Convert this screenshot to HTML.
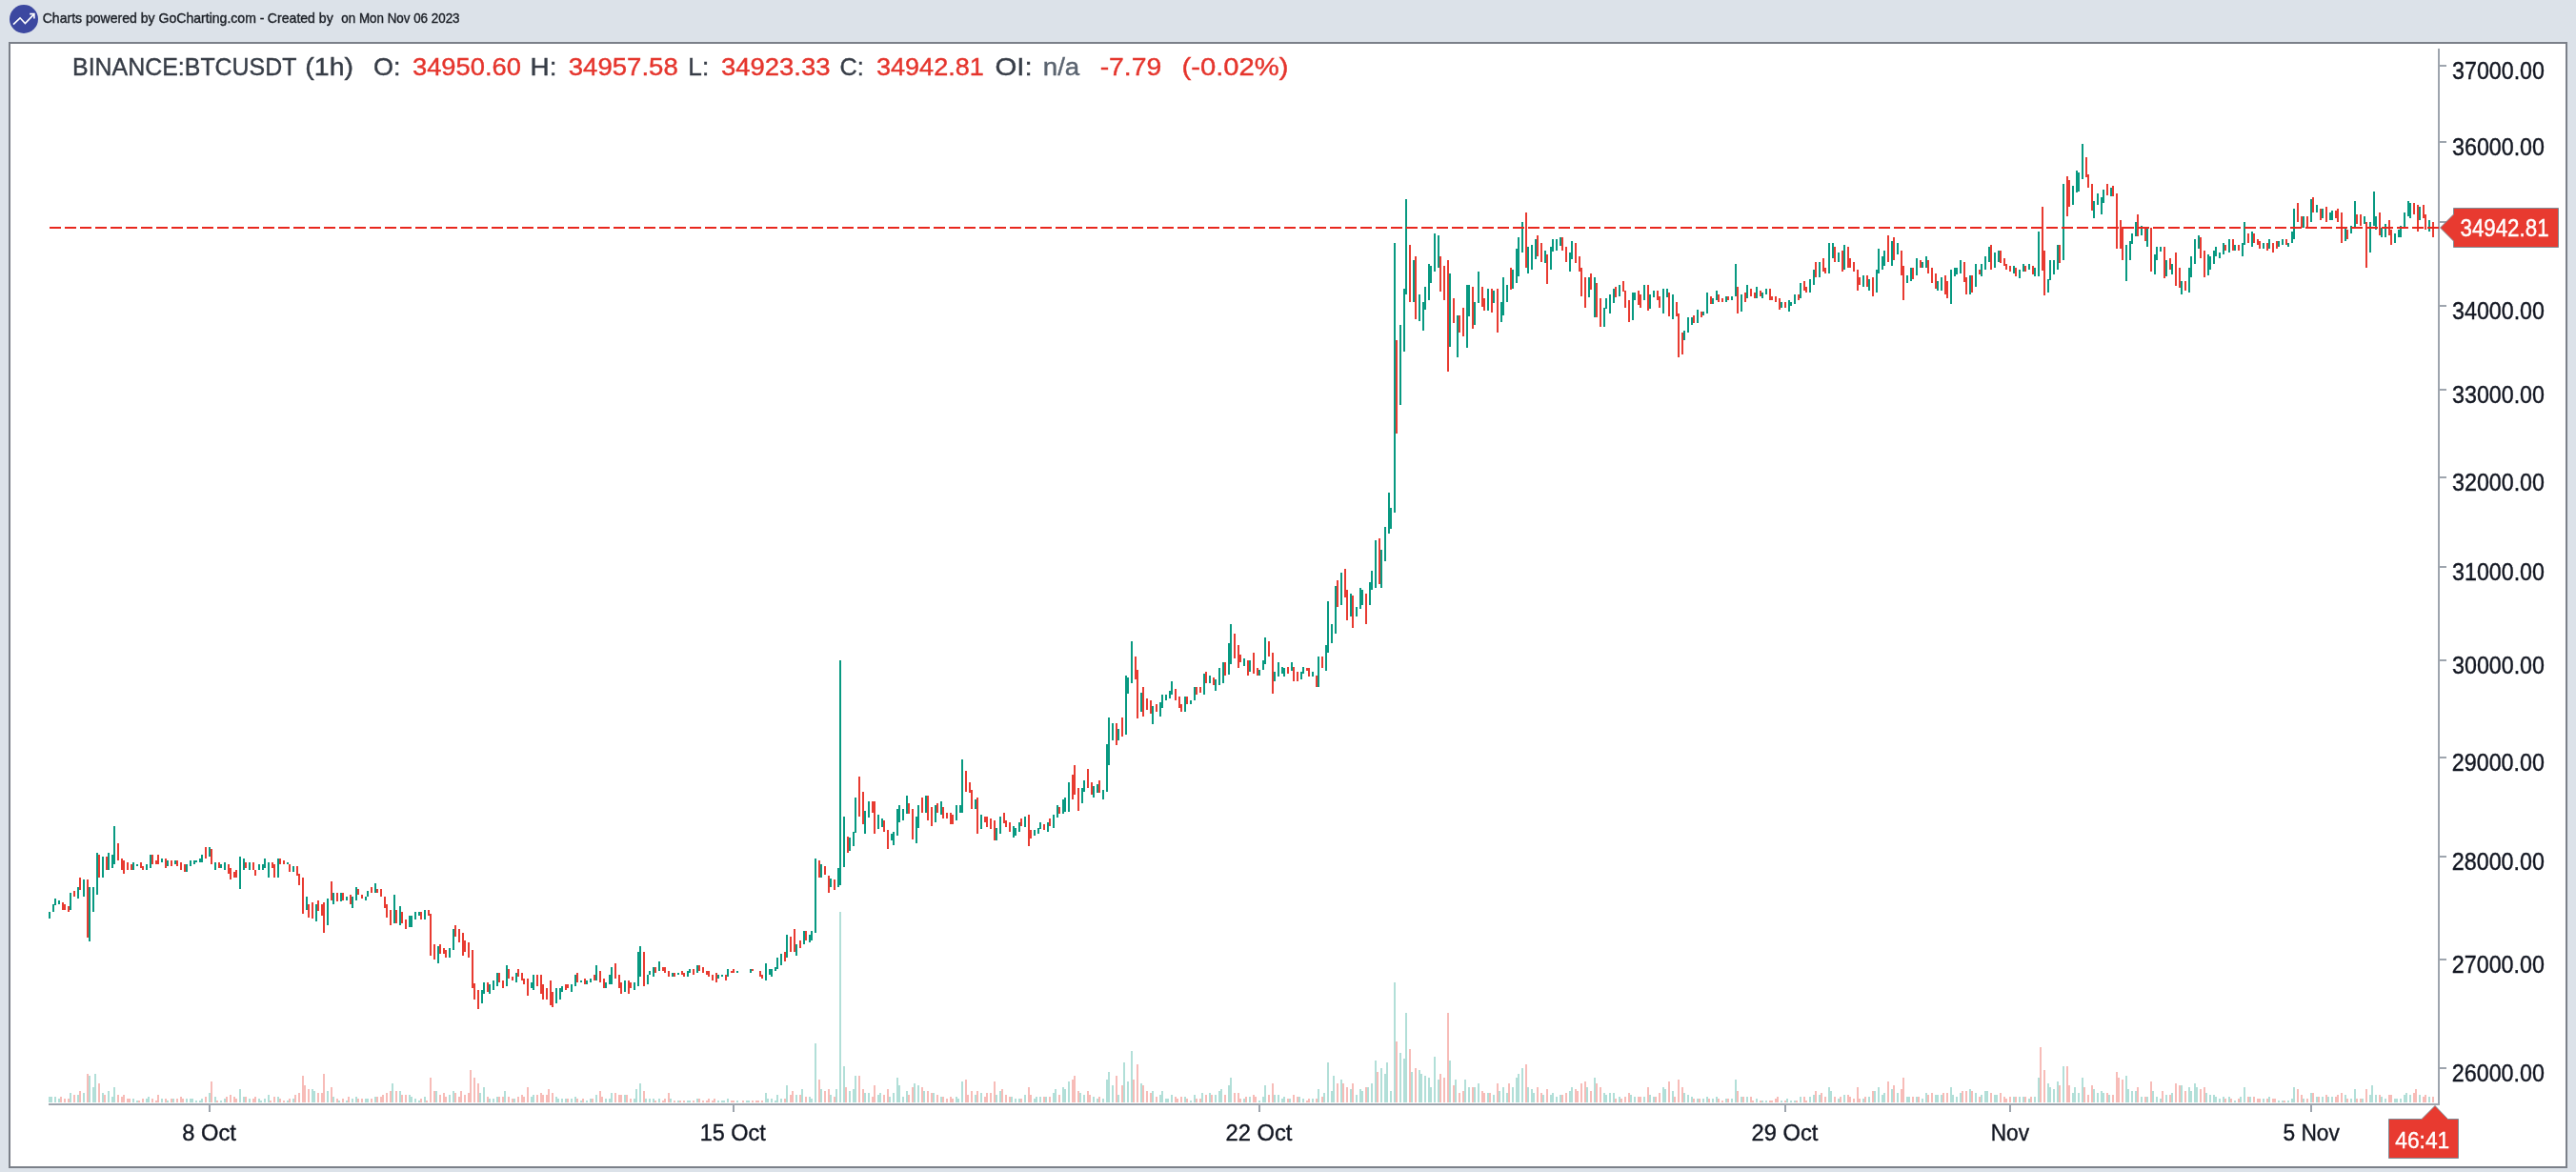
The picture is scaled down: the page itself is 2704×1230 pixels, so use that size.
<!DOCTYPE html>
<html><head><meta charset="utf-8"><style>
html,body{margin:0;padding:0;}
body{width:2704px;height:1230px;background:#dce2e9;overflow:hidden;position:relative;font-family:"Liberation Sans",sans-serif;}
#box{position:absolute;left:9px;top:44px;width:2682px;height:1178px;background:#fff;border:2px solid #7b8089;}
svg{position:absolute;left:0;top:0;font-family:"Liberation Sans",sans-serif;will-change:transform;}
</style></head><body>
<div id="box"></div>
<svg width="2704" height="1230" viewBox="0 0 2704 1230" shape-rendering="crispEdges">
<circle cx="25" cy="20" r="15" fill="#3c48a0" shape-rendering="auto"/>
<polyline points="14,25.6 21.05,18.8 26.4,24.6 35.5,15.1" fill="none" stroke="#fff" stroke-width="1.6" shape-rendering="auto"/>
<polyline points="31.2,14.6 35.9,14.6 35.9,19.5" fill="none" stroke="#fff" stroke-width="1.6" shape-rendering="auto"/>
<g><rect x="51" y="1151" width="2" height="6" fill="#b2dfd8"/><rect x="53" y="1151" width="2" height="6" fill="#b2dfd8"/><rect x="57" y="1151" width="2" height="6" fill="#b2dfd8"/><rect x="61" y="1153" width="2" height="4" fill="#b2dfd8"/><rect x="63" y="1151" width="2" height="6" fill="#f7bcb8"/><rect x="67" y="1153" width="2" height="4" fill="#f7bcb8"/><rect x="71" y="1153" width="2" height="4" fill="#f7bcb8"/><rect x="73" y="1147" width="2" height="10" fill="#b2dfd8"/><rect x="77" y="1149" width="2" height="8" fill="#f7bcb8"/><rect x="81" y="1149" width="2" height="8" fill="#b2dfd8"/><rect x="83" y="1145" width="2" height="12" fill="#f7bcb8"/><rect x="87" y="1147" width="2" height="10" fill="#b2dfd8"/><rect x="91" y="1127" width="2" height="30" fill="#f7bcb8"/><rect x="93" y="1129" width="2" height="28" fill="#b2dfd8"/><rect x="97" y="1141" width="2" height="16" fill="#b2dfd8"/><rect x="99" y="1127" width="2" height="30" fill="#b2dfd8"/><rect x="103" y="1137" width="2" height="20" fill="#f7bcb8"/><rect x="107" y="1147" width="2" height="10" fill="#b2dfd8"/><rect x="109" y="1149" width="2" height="8" fill="#f7bcb8"/><rect x="113" y="1145" width="2" height="12" fill="#b2dfd8"/><rect x="117" y="1151" width="2" height="6" fill="#b2dfd8"/><rect x="119" y="1141" width="2" height="16" fill="#b2dfd8"/><rect x="123" y="1149" width="2" height="8" fill="#f7bcb8"/><rect x="127" y="1151" width="2" height="6" fill="#f7bcb8"/><rect x="129" y="1149" width="2" height="8" fill="#f7bcb8"/><rect x="133" y="1153" width="2" height="4" fill="#f7bcb8"/><rect x="135" y="1153" width="2" height="4" fill="#f7bcb8"/><rect x="139" y="1153" width="2" height="4" fill="#b2dfd8"/><rect x="143" y="1155" width="2" height="2" fill="#b2dfd8"/><rect x="145" y="1155" width="2" height="2" fill="#f7bcb8"/><rect x="149" y="1153" width="2" height="4" fill="#f7bcb8"/><rect x="153" y="1153" width="2" height="4" fill="#b2dfd8"/><rect x="155" y="1151" width="2" height="6" fill="#b2dfd8"/><rect x="159" y="1153" width="2" height="4" fill="#f7bcb8"/><rect x="163" y="1155" width="2" height="2" fill="#f7bcb8"/><rect x="165" y="1149" width="2" height="8" fill="#f7bcb8"/><rect x="169" y="1153" width="2" height="4" fill="#b2dfd8"/><rect x="173" y="1153" width="2" height="4" fill="#f7bcb8"/><rect x="175" y="1155" width="2" height="2" fill="#b2dfd8"/><rect x="179" y="1153" width="2" height="4" fill="#f7bcb8"/><rect x="181" y="1153" width="2" height="4" fill="#b2dfd8"/><rect x="185" y="1153" width="2" height="4" fill="#f7bcb8"/><rect x="189" y="1151" width="2" height="6" fill="#f7bcb8"/><rect x="191" y="1153" width="2" height="4" fill="#f7bcb8"/><rect x="195" y="1153" width="2" height="4" fill="#b2dfd8"/><rect x="199" y="1153" width="2" height="4" fill="#b2dfd8"/><rect x="201" y="1153" width="2" height="4" fill="#b2dfd8"/><rect x="205" y="1155" width="2" height="2" fill="#b2dfd8"/><rect x="209" y="1155" width="2" height="2" fill="#b2dfd8"/><rect x="211" y="1153" width="2" height="4" fill="#b2dfd8"/><rect x="215" y="1151" width="2" height="6" fill="#f7bcb8"/><rect x="219" y="1147" width="2" height="10" fill="#b2dfd8"/><rect x="221" y="1135" width="2" height="22" fill="#f7bcb8"/><rect x="225" y="1151" width="2" height="6" fill="#b2dfd8"/><rect x="227" y="1155" width="2" height="2" fill="#f7bcb8"/><rect x="231" y="1155" width="2" height="2" fill="#b2dfd8"/><rect x="235" y="1153" width="2" height="4" fill="#b2dfd8"/><rect x="237" y="1151" width="2" height="6" fill="#f7bcb8"/><rect x="241" y="1149" width="2" height="8" fill="#f7bcb8"/><rect x="245" y="1151" width="2" height="6" fill="#f7bcb8"/><rect x="247" y="1153" width="2" height="4" fill="#f7bcb8"/><rect x="251" y="1143" width="2" height="14" fill="#b2dfd8"/><rect x="255" y="1151" width="2" height="6" fill="#b2dfd8"/><rect x="257" y="1151" width="2" height="6" fill="#f7bcb8"/><rect x="261" y="1153" width="2" height="4" fill="#b2dfd8"/><rect x="265" y="1153" width="2" height="4" fill="#f7bcb8"/><rect x="267" y="1151" width="2" height="6" fill="#f7bcb8"/><rect x="271" y="1153" width="2" height="4" fill="#b2dfd8"/><rect x="273" y="1155" width="2" height="2" fill="#b2dfd8"/><rect x="277" y="1153" width="2" height="4" fill="#b2dfd8"/><rect x="281" y="1149" width="2" height="8" fill="#b2dfd8"/><rect x="283" y="1155" width="2" height="2" fill="#f7bcb8"/><rect x="287" y="1151" width="2" height="6" fill="#f7bcb8"/><rect x="291" y="1151" width="2" height="6" fill="#b2dfd8"/><rect x="293" y="1153" width="2" height="4" fill="#f7bcb8"/><rect x="297" y="1155" width="2" height="2" fill="#f7bcb8"/><rect x="301" y="1155" width="2" height="2" fill="#b2dfd8"/><rect x="303" y="1153" width="2" height="4" fill="#f7bcb8"/><rect x="307" y="1153" width="2" height="4" fill="#b2dfd8"/><rect x="309" y="1149" width="2" height="8" fill="#f7bcb8"/><rect x="313" y="1147" width="2" height="10" fill="#f7bcb8"/><rect x="317" y="1129" width="2" height="28" fill="#f7bcb8"/><rect x="319" y="1139" width="2" height="18" fill="#f7bcb8"/><rect x="323" y="1143" width="2" height="14" fill="#f7bcb8"/><rect x="327" y="1143" width="2" height="14" fill="#b2dfd8"/><rect x="329" y="1145" width="2" height="12" fill="#b2dfd8"/><rect x="333" y="1147" width="2" height="10" fill="#f7bcb8"/><rect x="337" y="1147" width="2" height="10" fill="#f7bcb8"/><rect x="339" y="1127" width="2" height="30" fill="#f7bcb8"/><rect x="343" y="1145" width="2" height="12" fill="#b2dfd8"/><rect x="347" y="1141" width="2" height="16" fill="#f7bcb8"/><rect x="349" y="1151" width="2" height="6" fill="#b2dfd8"/><rect x="353" y="1153" width="2" height="4" fill="#f7bcb8"/><rect x="355" y="1155" width="2" height="2" fill="#b2dfd8"/><rect x="359" y="1153" width="2" height="4" fill="#f7bcb8"/><rect x="363" y="1155" width="2" height="2" fill="#b2dfd8"/><rect x="365" y="1151" width="2" height="6" fill="#f7bcb8"/><rect x="369" y="1153" width="2" height="4" fill="#b2dfd8"/><rect x="373" y="1151" width="2" height="6" fill="#b2dfd8"/><rect x="375" y="1153" width="2" height="4" fill="#f7bcb8"/><rect x="379" y="1153" width="2" height="4" fill="#f7bcb8"/><rect x="383" y="1153" width="2" height="4" fill="#b2dfd8"/><rect x="385" y="1153" width="2" height="4" fill="#b2dfd8"/><rect x="389" y="1153" width="2" height="4" fill="#f7bcb8"/><rect x="393" y="1151" width="2" height="6" fill="#b2dfd8"/><rect x="395" y="1151" width="2" height="6" fill="#f7bcb8"/><rect x="399" y="1151" width="2" height="6" fill="#f7bcb8"/><rect x="401" y="1149" width="2" height="8" fill="#f7bcb8"/><rect x="405" y="1147" width="2" height="10" fill="#f7bcb8"/><rect x="409" y="1145" width="2" height="12" fill="#f7bcb8"/><rect x="411" y="1137" width="2" height="20" fill="#b2dfd8"/><rect x="415" y="1145" width="2" height="12" fill="#f7bcb8"/><rect x="419" y="1145" width="2" height="12" fill="#b2dfd8"/><rect x="421" y="1149" width="2" height="8" fill="#f7bcb8"/><rect x="425" y="1149" width="2" height="8" fill="#f7bcb8"/><rect x="429" y="1149" width="2" height="8" fill="#b2dfd8"/><rect x="431" y="1151" width="2" height="6" fill="#b2dfd8"/><rect x="435" y="1153" width="2" height="4" fill="#b2dfd8"/><rect x="439" y="1155" width="2" height="2" fill="#b2dfd8"/><rect x="441" y="1153" width="2" height="4" fill="#f7bcb8"/><rect x="445" y="1151" width="2" height="6" fill="#b2dfd8"/><rect x="447" y="1155" width="2" height="2" fill="#f7bcb8"/><rect x="451" y="1131" width="2" height="26" fill="#f7bcb8"/><rect x="455" y="1145" width="2" height="12" fill="#f7bcb8"/><rect x="457" y="1145" width="2" height="12" fill="#b2dfd8"/><rect x="461" y="1149" width="2" height="8" fill="#f7bcb8"/><rect x="465" y="1147" width="2" height="10" fill="#f7bcb8"/><rect x="467" y="1151" width="2" height="6" fill="#f7bcb8"/><rect x="471" y="1149" width="2" height="8" fill="#b2dfd8"/><rect x="475" y="1145" width="2" height="12" fill="#b2dfd8"/><rect x="477" y="1147" width="2" height="10" fill="#f7bcb8"/><rect x="481" y="1151" width="2" height="6" fill="#f7bcb8"/><rect x="483" y="1145" width="2" height="12" fill="#f7bcb8"/><rect x="487" y="1149" width="2" height="8" fill="#f7bcb8"/><rect x="491" y="1147" width="2" height="10" fill="#f7bcb8"/><rect x="493" y="1123" width="2" height="34" fill="#f7bcb8"/><rect x="497" y="1131" width="2" height="26" fill="#f7bcb8"/><rect x="501" y="1137" width="2" height="20" fill="#f7bcb8"/><rect x="503" y="1147" width="2" height="10" fill="#b2dfd8"/><rect x="507" y="1141" width="2" height="16" fill="#b2dfd8"/><rect x="511" y="1151" width="2" height="6" fill="#f7bcb8"/><rect x="513" y="1153" width="2" height="4" fill="#b2dfd8"/><rect x="517" y="1153" width="2" height="4" fill="#b2dfd8"/><rect x="521" y="1151" width="2" height="6" fill="#b2dfd8"/><rect x="523" y="1151" width="2" height="6" fill="#f7bcb8"/><rect x="527" y="1151" width="2" height="6" fill="#f7bcb8"/><rect x="529" y="1145" width="2" height="12" fill="#b2dfd8"/><rect x="533" y="1151" width="2" height="6" fill="#f7bcb8"/><rect x="537" y="1153" width="2" height="4" fill="#f7bcb8"/><rect x="539" y="1153" width="2" height="4" fill="#b2dfd8"/><rect x="543" y="1151" width="2" height="6" fill="#f7bcb8"/><rect x="547" y="1149" width="2" height="8" fill="#f7bcb8"/><rect x="549" y="1151" width="2" height="6" fill="#f7bcb8"/><rect x="553" y="1141" width="2" height="16" fill="#f7bcb8"/><rect x="557" y="1151" width="2" height="6" fill="#b2dfd8"/><rect x="559" y="1149" width="2" height="8" fill="#b2dfd8"/><rect x="563" y="1149" width="2" height="8" fill="#f7bcb8"/><rect x="567" y="1147" width="2" height="10" fill="#f7bcb8"/><rect x="569" y="1149" width="2" height="8" fill="#f7bcb8"/><rect x="573" y="1149" width="2" height="8" fill="#f7bcb8"/><rect x="575" y="1143" width="2" height="14" fill="#f7bcb8"/><rect x="579" y="1147" width="2" height="10" fill="#f7bcb8"/><rect x="583" y="1151" width="2" height="6" fill="#b2dfd8"/><rect x="585" y="1153" width="2" height="4" fill="#b2dfd8"/><rect x="589" y="1153" width="2" height="4" fill="#b2dfd8"/><rect x="593" y="1153" width="2" height="4" fill="#b2dfd8"/><rect x="595" y="1153" width="2" height="4" fill="#f7bcb8"/><rect x="599" y="1153" width="2" height="4" fill="#b2dfd8"/><rect x="603" y="1151" width="2" height="6" fill="#b2dfd8"/><rect x="605" y="1153" width="2" height="4" fill="#f7bcb8"/><rect x="609" y="1155" width="2" height="2" fill="#b2dfd8"/><rect x="611" y="1153" width="2" height="4" fill="#f7bcb8"/><rect x="615" y="1155" width="2" height="2" fill="#b2dfd8"/><rect x="619" y="1153" width="2" height="4" fill="#b2dfd8"/><rect x="621" y="1153" width="2" height="4" fill="#f7bcb8"/><rect x="625" y="1149" width="2" height="8" fill="#b2dfd8"/><rect x="629" y="1145" width="2" height="12" fill="#f7bcb8"/><rect x="631" y="1151" width="2" height="6" fill="#f7bcb8"/><rect x="635" y="1153" width="2" height="4" fill="#b2dfd8"/><rect x="639" y="1153" width="2" height="4" fill="#b2dfd8"/><rect x="641" y="1147" width="2" height="10" fill="#b2dfd8"/><rect x="645" y="1147" width="2" height="10" fill="#f7bcb8"/><rect x="649" y="1149" width="2" height="8" fill="#f7bcb8"/><rect x="651" y="1149" width="2" height="8" fill="#f7bcb8"/><rect x="655" y="1149" width="2" height="8" fill="#b2dfd8"/><rect x="657" y="1149" width="2" height="8" fill="#f7bcb8"/><rect x="661" y="1153" width="2" height="4" fill="#f7bcb8"/><rect x="665" y="1153" width="2" height="4" fill="#b2dfd8"/><rect x="667" y="1143" width="2" height="14" fill="#b2dfd8"/><rect x="671" y="1137" width="2" height="20" fill="#b2dfd8"/><rect x="675" y="1145" width="2" height="12" fill="#f7bcb8"/><rect x="677" y="1153" width="2" height="4" fill="#b2dfd8"/><rect x="681" y="1153" width="2" height="4" fill="#b2dfd8"/><rect x="685" y="1153" width="2" height="4" fill="#b2dfd8"/><rect x="687" y="1155" width="2" height="2" fill="#f7bcb8"/><rect x="691" y="1153" width="2" height="4" fill="#b2dfd8"/><rect x="695" y="1155" width="2" height="2" fill="#f7bcb8"/><rect x="697" y="1153" width="2" height="4" fill="#f7bcb8"/><rect x="701" y="1147" width="2" height="10" fill="#f7bcb8"/><rect x="703" y="1153" width="2" height="4" fill="#b2dfd8"/><rect x="707" y="1155" width="2" height="2" fill="#f7bcb8"/><rect x="711" y="1155" width="2" height="2" fill="#b2dfd8"/><rect x="713" y="1155" width="2" height="2" fill="#f7bcb8"/><rect x="717" y="1155" width="2" height="2" fill="#f7bcb8"/><rect x="721" y="1155" width="2" height="2" fill="#b2dfd8"/><rect x="723" y="1155" width="2" height="2" fill="#b2dfd8"/><rect x="727" y="1155" width="2" height="2" fill="#f7bcb8"/><rect x="731" y="1153" width="2" height="4" fill="#b2dfd8"/><rect x="733" y="1153" width="2" height="4" fill="#f7bcb8"/><rect x="737" y="1155" width="2" height="2" fill="#f7bcb8"/><rect x="741" y="1155" width="2" height="2" fill="#f7bcb8"/><rect x="743" y="1153" width="2" height="4" fill="#f7bcb8"/><rect x="747" y="1155" width="2" height="2" fill="#f7bcb8"/><rect x="749" y="1153" width="2" height="4" fill="#f7bcb8"/><rect x="753" y="1155" width="2" height="2" fill="#b2dfd8"/><rect x="757" y="1155" width="2" height="2" fill="#b2dfd8"/><rect x="759" y="1155" width="2" height="2" fill="#b2dfd8"/><rect x="763" y="1153" width="2" height="4" fill="#b2dfd8"/><rect x="767" y="1155" width="2" height="2" fill="#f7bcb8"/><rect x="769" y="1155" width="2" height="2" fill="#f7bcb8"/><rect x="773" y="1155" width="2" height="2" fill="#b2dfd8"/><rect x="779" y="1155" width="2" height="2" fill="#f7bcb8"/><rect x="783" y="1155" width="2" height="2" fill="#b2dfd8"/><rect x="785" y="1155" width="2" height="2" fill="#b2dfd8"/><rect x="789" y="1155" width="2" height="2" fill="#f7bcb8"/><rect x="793" y="1155" width="2" height="2" fill="#f7bcb8"/><rect x="795" y="1155" width="2" height="2" fill="#f7bcb8"/><rect x="799" y="1155" width="2" height="2" fill="#f7bcb8"/><rect x="803" y="1147" width="2" height="10" fill="#b2dfd8"/><rect x="805" y="1153" width="2" height="4" fill="#b2dfd8"/><rect x="809" y="1153" width="2" height="4" fill="#b2dfd8"/><rect x="813" y="1155" width="2" height="2" fill="#b2dfd8"/><rect x="815" y="1149" width="2" height="8" fill="#b2dfd8"/><rect x="819" y="1153" width="2" height="4" fill="#b2dfd8"/><rect x="823" y="1153" width="2" height="4" fill="#f7bcb8"/><rect x="825" y="1139" width="2" height="18" fill="#b2dfd8"/><rect x="829" y="1149" width="2" height="8" fill="#f7bcb8"/><rect x="831" y="1145" width="2" height="12" fill="#f7bcb8"/><rect x="835" y="1149" width="2" height="8" fill="#b2dfd8"/><rect x="839" y="1149" width="2" height="8" fill="#f7bcb8"/><rect x="841" y="1143" width="2" height="14" fill="#b2dfd8"/><rect x="845" y="1151" width="2" height="6" fill="#f7bcb8"/><rect x="849" y="1151" width="2" height="6" fill="#b2dfd8"/><rect x="851" y="1153" width="2" height="4" fill="#b2dfd8"/><rect x="855" y="1095" width="2" height="62" fill="#b2dfd8"/><rect x="859" y="1133" width="2" height="24" fill="#f7bcb8"/><rect x="861" y="1143" width="2" height="14" fill="#b2dfd8"/><rect x="865" y="1145" width="2" height="12" fill="#f7bcb8"/><rect x="869" y="1143" width="2" height="14" fill="#f7bcb8"/><rect x="871" y="1149" width="2" height="8" fill="#b2dfd8"/><rect x="875" y="1151" width="2" height="6" fill="#f7bcb8"/><rect x="877" y="1143" width="2" height="14" fill="#b2dfd8"/><rect x="881" y="957" width="2" height="200" fill="#b2dfd8"/><rect x="885" y="1119" width="2" height="38" fill="#b2dfd8"/><rect x="887" y="1141" width="2" height="16" fill="#f7bcb8"/><rect x="891" y="1145" width="2" height="12" fill="#b2dfd8"/><rect x="895" y="1143" width="2" height="14" fill="#b2dfd8"/><rect x="897" y="1129" width="2" height="28" fill="#b2dfd8"/><rect x="901" y="1129" width="2" height="28" fill="#f7bcb8"/><rect x="905" y="1143" width="2" height="14" fill="#f7bcb8"/><rect x="907" y="1147" width="2" height="10" fill="#b2dfd8"/><rect x="911" y="1147" width="2" height="10" fill="#b2dfd8"/><rect x="915" y="1151" width="2" height="6" fill="#f7bcb8"/><rect x="917" y="1139" width="2" height="18" fill="#f7bcb8"/><rect x="921" y="1149" width="2" height="8" fill="#b2dfd8"/><rect x="923" y="1147" width="2" height="10" fill="#b2dfd8"/><rect x="927" y="1149" width="2" height="8" fill="#f7bcb8"/><rect x="931" y="1143" width="2" height="14" fill="#f7bcb8"/><rect x="933" y="1151" width="2" height="6" fill="#b2dfd8"/><rect x="937" y="1147" width="2" height="10" fill="#b2dfd8"/><rect x="941" y="1131" width="2" height="26" fill="#b2dfd8"/><rect x="943" y="1139" width="2" height="18" fill="#b2dfd8"/><rect x="947" y="1151" width="2" height="6" fill="#b2dfd8"/><rect x="951" y="1145" width="2" height="12" fill="#b2dfd8"/><rect x="953" y="1149" width="2" height="8" fill="#f7bcb8"/><rect x="957" y="1141" width="2" height="16" fill="#f7bcb8"/><rect x="959" y="1137" width="2" height="20" fill="#b2dfd8"/><rect x="963" y="1139" width="2" height="18" fill="#b2dfd8"/><rect x="967" y="1141" width="2" height="16" fill="#f7bcb8"/><rect x="969" y="1145" width="2" height="12" fill="#b2dfd8"/><rect x="973" y="1145" width="2" height="12" fill="#f7bcb8"/><rect x="977" y="1147" width="2" height="10" fill="#f7bcb8"/><rect x="979" y="1147" width="2" height="10" fill="#b2dfd8"/><rect x="983" y="1149" width="2" height="8" fill="#f7bcb8"/><rect x="987" y="1151" width="2" height="6" fill="#b2dfd8"/><rect x="989" y="1151" width="2" height="6" fill="#f7bcb8"/><rect x="993" y="1153" width="2" height="4" fill="#f7bcb8"/><rect x="997" y="1151" width="2" height="6" fill="#f7bcb8"/><rect x="999" y="1153" width="2" height="4" fill="#f7bcb8"/><rect x="1003" y="1151" width="2" height="6" fill="#b2dfd8"/><rect x="1005" y="1153" width="2" height="4" fill="#b2dfd8"/><rect x="1009" y="1135" width="2" height="22" fill="#b2dfd8"/><rect x="1013" y="1133" width="2" height="24" fill="#f7bcb8"/><rect x="1015" y="1149" width="2" height="8" fill="#f7bcb8"/><rect x="1019" y="1145" width="2" height="12" fill="#f7bcb8"/><rect x="1023" y="1149" width="2" height="8" fill="#b2dfd8"/><rect x="1025" y="1145" width="2" height="12" fill="#f7bcb8"/><rect x="1029" y="1147" width="2" height="10" fill="#b2dfd8"/><rect x="1033" y="1151" width="2" height="6" fill="#f7bcb8"/><rect x="1035" y="1147" width="2" height="10" fill="#f7bcb8"/><rect x="1039" y="1147" width="2" height="10" fill="#f7bcb8"/><rect x="1043" y="1135" width="2" height="22" fill="#f7bcb8"/><rect x="1045" y="1149" width="2" height="8" fill="#b2dfd8"/><rect x="1049" y="1145" width="2" height="12" fill="#b2dfd8"/><rect x="1051" y="1143" width="2" height="14" fill="#f7bcb8"/><rect x="1055" y="1149" width="2" height="8" fill="#f7bcb8"/><rect x="1059" y="1151" width="2" height="6" fill="#f7bcb8"/><rect x="1061" y="1151" width="2" height="6" fill="#b2dfd8"/><rect x="1065" y="1153" width="2" height="4" fill="#b2dfd8"/><rect x="1069" y="1153" width="2" height="4" fill="#b2dfd8"/><rect x="1071" y="1153" width="2" height="4" fill="#f7bcb8"/><rect x="1075" y="1149" width="2" height="8" fill="#b2dfd8"/><rect x="1079" y="1141" width="2" height="16" fill="#f7bcb8"/><rect x="1081" y="1149" width="2" height="8" fill="#f7bcb8"/><rect x="1085" y="1153" width="2" height="4" fill="#b2dfd8"/><rect x="1087" y="1151" width="2" height="6" fill="#b2dfd8"/><rect x="1091" y="1151" width="2" height="6" fill="#b2dfd8"/><rect x="1095" y="1151" width="2" height="6" fill="#f7bcb8"/><rect x="1097" y="1151" width="2" height="6" fill="#b2dfd8"/><rect x="1101" y="1151" width="2" height="6" fill="#f7bcb8"/><rect x="1105" y="1147" width="2" height="10" fill="#b2dfd8"/><rect x="1107" y="1143" width="2" height="14" fill="#b2dfd8"/><rect x="1111" y="1149" width="2" height="8" fill="#f7bcb8"/><rect x="1115" y="1141" width="2" height="16" fill="#b2dfd8"/><rect x="1117" y="1143" width="2" height="14" fill="#b2dfd8"/><rect x="1121" y="1135" width="2" height="22" fill="#b2dfd8"/><rect x="1125" y="1133" width="2" height="24" fill="#f7bcb8"/><rect x="1127" y="1129" width="2" height="28" fill="#f7bcb8"/><rect x="1131" y="1145" width="2" height="12" fill="#f7bcb8"/><rect x="1133" y="1147" width="2" height="10" fill="#b2dfd8"/><rect x="1137" y="1149" width="2" height="8" fill="#b2dfd8"/><rect x="1141" y="1145" width="2" height="12" fill="#f7bcb8"/><rect x="1143" y="1149" width="2" height="8" fill="#f7bcb8"/><rect x="1147" y="1151" width="2" height="6" fill="#b2dfd8"/><rect x="1151" y="1153" width="2" height="4" fill="#b2dfd8"/><rect x="1153" y="1151" width="2" height="6" fill="#f7bcb8"/><rect x="1157" y="1153" width="2" height="4" fill="#b2dfd8"/><rect x="1161" y="1133" width="2" height="24" fill="#b2dfd8"/><rect x="1163" y="1125" width="2" height="32" fill="#b2dfd8"/><rect x="1167" y="1139" width="2" height="18" fill="#b2dfd8"/><rect x="1171" y="1129" width="2" height="28" fill="#f7bcb8"/><rect x="1173" y="1149" width="2" height="8" fill="#b2dfd8"/><rect x="1177" y="1139" width="2" height="18" fill="#f7bcb8"/><rect x="1179" y="1115" width="2" height="42" fill="#b2dfd8"/><rect x="1183" y="1135" width="2" height="22" fill="#b2dfd8"/><rect x="1187" y="1103" width="2" height="54" fill="#b2dfd8"/><rect x="1189" y="1133" width="2" height="24" fill="#f7bcb8"/><rect x="1193" y="1117" width="2" height="40" fill="#f7bcb8"/><rect x="1197" y="1137" width="2" height="20" fill="#b2dfd8"/><rect x="1199" y="1139" width="2" height="18" fill="#f7bcb8"/><rect x="1203" y="1145" width="2" height="12" fill="#f7bcb8"/><rect x="1207" y="1147" width="2" height="10" fill="#f7bcb8"/><rect x="1209" y="1145" width="2" height="12" fill="#b2dfd8"/><rect x="1213" y="1151" width="2" height="6" fill="#f7bcb8"/><rect x="1217" y="1149" width="2" height="8" fill="#b2dfd8"/><rect x="1219" y="1145" width="2" height="12" fill="#b2dfd8"/><rect x="1223" y="1153" width="2" height="4" fill="#b2dfd8"/><rect x="1225" y="1153" width="2" height="4" fill="#b2dfd8"/><rect x="1229" y="1149" width="2" height="8" fill="#b2dfd8"/><rect x="1233" y="1151" width="2" height="6" fill="#f7bcb8"/><rect x="1235" y="1153" width="2" height="4" fill="#f7bcb8"/><rect x="1239" y="1151" width="2" height="6" fill="#f7bcb8"/><rect x="1243" y="1151" width="2" height="6" fill="#b2dfd8"/><rect x="1245" y="1153" width="2" height="4" fill="#f7bcb8"/><rect x="1249" y="1155" width="2" height="2" fill="#b2dfd8"/><rect x="1253" y="1149" width="2" height="8" fill="#b2dfd8"/><rect x="1255" y="1153" width="2" height="4" fill="#f7bcb8"/><rect x="1259" y="1153" width="2" height="4" fill="#f7bcb8"/><rect x="1261" y="1147" width="2" height="10" fill="#b2dfd8"/><rect x="1265" y="1149" width="2" height="8" fill="#f7bcb8"/><rect x="1269" y="1147" width="2" height="10" fill="#b2dfd8"/><rect x="1271" y="1149" width="2" height="8" fill="#f7bcb8"/><rect x="1275" y="1149" width="2" height="8" fill="#b2dfd8"/><rect x="1279" y="1145" width="2" height="12" fill="#b2dfd8"/><rect x="1281" y="1143" width="2" height="14" fill="#b2dfd8"/><rect x="1285" y="1149" width="2" height="8" fill="#f7bcb8"/><rect x="1289" y="1139" width="2" height="18" fill="#b2dfd8"/><rect x="1291" y="1131" width="2" height="26" fill="#b2dfd8"/><rect x="1295" y="1147" width="2" height="10" fill="#f7bcb8"/><rect x="1299" y="1147" width="2" height="10" fill="#f7bcb8"/><rect x="1301" y="1153" width="2" height="4" fill="#f7bcb8"/><rect x="1305" y="1153" width="2" height="4" fill="#b2dfd8"/><rect x="1307" y="1151" width="2" height="6" fill="#f7bcb8"/><rect x="1311" y="1151" width="2" height="6" fill="#b2dfd8"/><rect x="1315" y="1149" width="2" height="8" fill="#f7bcb8"/><rect x="1317" y="1151" width="2" height="6" fill="#f7bcb8"/><rect x="1321" y="1155" width="2" height="2" fill="#b2dfd8"/><rect x="1325" y="1151" width="2" height="6" fill="#b2dfd8"/><rect x="1327" y="1139" width="2" height="18" fill="#b2dfd8"/><rect x="1331" y="1149" width="2" height="8" fill="#f7bcb8"/><rect x="1335" y="1137" width="2" height="20" fill="#f7bcb8"/><rect x="1337" y="1149" width="2" height="8" fill="#b2dfd8"/><rect x="1341" y="1149" width="2" height="8" fill="#b2dfd8"/><rect x="1345" y="1153" width="2" height="4" fill="#b2dfd8"/><rect x="1347" y="1151" width="2" height="6" fill="#b2dfd8"/><rect x="1351" y="1153" width="2" height="4" fill="#f7bcb8"/><rect x="1353" y="1153" width="2" height="4" fill="#b2dfd8"/><rect x="1357" y="1149" width="2" height="8" fill="#f7bcb8"/><rect x="1361" y="1151" width="2" height="6" fill="#f7bcb8"/><rect x="1363" y="1151" width="2" height="6" fill="#b2dfd8"/><rect x="1367" y="1153" width="2" height="4" fill="#b2dfd8"/><rect x="1371" y="1155" width="2" height="2" fill="#f7bcb8"/><rect x="1373" y="1153" width="2" height="4" fill="#f7bcb8"/><rect x="1377" y="1153" width="2" height="4" fill="#b2dfd8"/><rect x="1381" y="1153" width="2" height="4" fill="#f7bcb8"/><rect x="1383" y="1143" width="2" height="14" fill="#b2dfd8"/><rect x="1387" y="1151" width="2" height="6" fill="#f7bcb8"/><rect x="1389" y="1147" width="2" height="10" fill="#b2dfd8"/><rect x="1393" y="1115" width="2" height="42" fill="#b2dfd8"/><rect x="1397" y="1145" width="2" height="12" fill="#b2dfd8"/><rect x="1399" y="1129" width="2" height="28" fill="#b2dfd8"/><rect x="1403" y="1137" width="2" height="20" fill="#f7bcb8"/><rect x="1407" y="1133" width="2" height="24" fill="#b2dfd8"/><rect x="1409" y="1137" width="2" height="20" fill="#f7bcb8"/><rect x="1413" y="1141" width="2" height="16" fill="#f7bcb8"/><rect x="1417" y="1143" width="2" height="14" fill="#b2dfd8"/><rect x="1419" y="1137" width="2" height="20" fill="#f7bcb8"/><rect x="1423" y="1149" width="2" height="8" fill="#b2dfd8"/><rect x="1427" y="1143" width="2" height="14" fill="#b2dfd8"/><rect x="1429" y="1145" width="2" height="12" fill="#b2dfd8"/><rect x="1433" y="1141" width="2" height="16" fill="#f7bcb8"/><rect x="1435" y="1141" width="2" height="16" fill="#b2dfd8"/><rect x="1439" y="1137" width="2" height="20" fill="#b2dfd8"/><rect x="1443" y="1113" width="2" height="44" fill="#b2dfd8"/><rect x="1445" y="1125" width="2" height="32" fill="#f7bcb8"/><rect x="1449" y="1121" width="2" height="36" fill="#b2dfd8"/><rect x="1453" y="1127" width="2" height="30" fill="#b2dfd8"/><rect x="1455" y="1115" width="2" height="42" fill="#b2dfd8"/><rect x="1459" y="1145" width="2" height="12" fill="#b2dfd8"/><rect x="1463" y="1031" width="2" height="126" fill="#b2dfd8"/><rect x="1465" y="1093" width="2" height="64" fill="#f7bcb8"/><rect x="1469" y="1105" width="2" height="52" fill="#b2dfd8"/><rect x="1473" y="1111" width="2" height="46" fill="#b2dfd8"/><rect x="1475" y="1063" width="2" height="94" fill="#b2dfd8"/><rect x="1479" y="1101" width="2" height="56" fill="#f7bcb8"/><rect x="1481" y="1125" width="2" height="32" fill="#b2dfd8"/><rect x="1485" y="1121" width="2" height="36" fill="#f7bcb8"/><rect x="1489" y="1123" width="2" height="34" fill="#b2dfd8"/><rect x="1491" y="1127" width="2" height="30" fill="#b2dfd8"/><rect x="1495" y="1129" width="2" height="28" fill="#b2dfd8"/><rect x="1499" y="1131" width="2" height="26" fill="#b2dfd8"/><rect x="1501" y="1141" width="2" height="16" fill="#b2dfd8"/><rect x="1505" y="1109" width="2" height="48" fill="#b2dfd8"/><rect x="1509" y="1133" width="2" height="24" fill="#b2dfd8"/><rect x="1511" y="1127" width="2" height="30" fill="#f7bcb8"/><rect x="1515" y="1131" width="2" height="26" fill="#f7bcb8"/><rect x="1519" y="1063" width="2" height="94" fill="#f7bcb8"/><rect x="1521" y="1113" width="2" height="44" fill="#b2dfd8"/><rect x="1525" y="1139" width="2" height="18" fill="#f7bcb8"/><rect x="1527" y="1133" width="2" height="24" fill="#b2dfd8"/><rect x="1531" y="1147" width="2" height="10" fill="#f7bcb8"/><rect x="1535" y="1145" width="2" height="12" fill="#f7bcb8"/><rect x="1537" y="1133" width="2" height="24" fill="#b2dfd8"/><rect x="1541" y="1141" width="2" height="16" fill="#b2dfd8"/><rect x="1545" y="1141" width="2" height="16" fill="#f7bcb8"/><rect x="1547" y="1141" width="2" height="16" fill="#b2dfd8"/><rect x="1551" y="1137" width="2" height="20" fill="#b2dfd8"/><rect x="1555" y="1145" width="2" height="12" fill="#f7bcb8"/><rect x="1557" y="1147" width="2" height="10" fill="#f7bcb8"/><rect x="1561" y="1147" width="2" height="10" fill="#b2dfd8"/><rect x="1563" y="1147" width="2" height="10" fill="#f7bcb8"/><rect x="1567" y="1149" width="2" height="8" fill="#b2dfd8"/><rect x="1571" y="1137" width="2" height="20" fill="#f7bcb8"/><rect x="1573" y="1145" width="2" height="12" fill="#b2dfd8"/><rect x="1577" y="1141" width="2" height="16" fill="#b2dfd8"/><rect x="1581" y="1147" width="2" height="10" fill="#b2dfd8"/><rect x="1583" y="1137" width="2" height="20" fill="#f7bcb8"/><rect x="1587" y="1141" width="2" height="16" fill="#b2dfd8"/><rect x="1591" y="1131" width="2" height="26" fill="#b2dfd8"/><rect x="1593" y="1127" width="2" height="30" fill="#b2dfd8"/><rect x="1597" y="1121" width="2" height="36" fill="#b2dfd8"/><rect x="1601" y="1117" width="2" height="40" fill="#f7bcb8"/><rect x="1603" y="1141" width="2" height="16" fill="#b2dfd8"/><rect x="1607" y="1143" width="2" height="14" fill="#b2dfd8"/><rect x="1609" y="1147" width="2" height="10" fill="#b2dfd8"/><rect x="1613" y="1141" width="2" height="16" fill="#f7bcb8"/><rect x="1617" y="1147" width="2" height="10" fill="#f7bcb8"/><rect x="1619" y="1149" width="2" height="8" fill="#b2dfd8"/><rect x="1623" y="1143" width="2" height="14" fill="#f7bcb8"/><rect x="1627" y="1149" width="2" height="8" fill="#b2dfd8"/><rect x="1629" y="1147" width="2" height="10" fill="#b2dfd8"/><rect x="1633" y="1151" width="2" height="6" fill="#b2dfd8"/><rect x="1637" y="1149" width="2" height="8" fill="#b2dfd8"/><rect x="1639" y="1149" width="2" height="8" fill="#f7bcb8"/><rect x="1643" y="1147" width="2" height="10" fill="#f7bcb8"/><rect x="1647" y="1145" width="2" height="12" fill="#b2dfd8"/><rect x="1649" y="1141" width="2" height="16" fill="#b2dfd8"/><rect x="1653" y="1143" width="2" height="14" fill="#f7bcb8"/><rect x="1655" y="1145" width="2" height="12" fill="#f7bcb8"/><rect x="1659" y="1137" width="2" height="20" fill="#f7bcb8"/><rect x="1663" y="1135" width="2" height="22" fill="#f7bcb8"/><rect x="1665" y="1141" width="2" height="16" fill="#b2dfd8"/><rect x="1669" y="1145" width="2" height="12" fill="#f7bcb8"/><rect x="1673" y="1131" width="2" height="26" fill="#b2dfd8"/><rect x="1675" y="1137" width="2" height="20" fill="#f7bcb8"/><rect x="1679" y="1141" width="2" height="16" fill="#f7bcb8"/><rect x="1683" y="1147" width="2" height="10" fill="#b2dfd8"/><rect x="1685" y="1149" width="2" height="8" fill="#b2dfd8"/><rect x="1689" y="1147" width="2" height="10" fill="#b2dfd8"/><rect x="1693" y="1147" width="2" height="10" fill="#b2dfd8"/><rect x="1695" y="1153" width="2" height="4" fill="#f7bcb8"/><rect x="1699" y="1151" width="2" height="6" fill="#b2dfd8"/><rect x="1701" y="1153" width="2" height="4" fill="#f7bcb8"/><rect x="1705" y="1151" width="2" height="6" fill="#f7bcb8"/><rect x="1709" y="1147" width="2" height="10" fill="#f7bcb8"/><rect x="1711" y="1149" width="2" height="8" fill="#b2dfd8"/><rect x="1715" y="1151" width="2" height="6" fill="#b2dfd8"/><rect x="1719" y="1151" width="2" height="6" fill="#f7bcb8"/><rect x="1721" y="1151" width="2" height="6" fill="#f7bcb8"/><rect x="1725" y="1151" width="2" height="6" fill="#b2dfd8"/><rect x="1729" y="1141" width="2" height="16" fill="#f7bcb8"/><rect x="1731" y="1149" width="2" height="8" fill="#b2dfd8"/><rect x="1735" y="1151" width="2" height="6" fill="#b2dfd8"/><rect x="1737" y="1151" width="2" height="6" fill="#f7bcb8"/><rect x="1741" y="1147" width="2" height="10" fill="#f7bcb8"/><rect x="1745" y="1141" width="2" height="16" fill="#b2dfd8"/><rect x="1747" y="1143" width="2" height="14" fill="#b2dfd8"/><rect x="1751" y="1135" width="2" height="22" fill="#f7bcb8"/><rect x="1755" y="1145" width="2" height="12" fill="#b2dfd8"/><rect x="1757" y="1151" width="2" height="6" fill="#f7bcb8"/><rect x="1761" y="1133" width="2" height="24" fill="#f7bcb8"/><rect x="1765" y="1141" width="2" height="16" fill="#f7bcb8"/><rect x="1767" y="1147" width="2" height="10" fill="#b2dfd8"/><rect x="1771" y="1149" width="2" height="8" fill="#b2dfd8"/><rect x="1775" y="1151" width="2" height="6" fill="#b2dfd8"/><rect x="1777" y="1153" width="2" height="4" fill="#f7bcb8"/><rect x="1781" y="1153" width="2" height="4" fill="#b2dfd8"/><rect x="1783" y="1153" width="2" height="4" fill="#f7bcb8"/><rect x="1787" y="1153" width="2" height="4" fill="#b2dfd8"/><rect x="1791" y="1151" width="2" height="6" fill="#b2dfd8"/><rect x="1793" y="1153" width="2" height="4" fill="#f7bcb8"/><rect x="1797" y="1153" width="2" height="4" fill="#b2dfd8"/><rect x="1801" y="1151" width="2" height="6" fill="#b2dfd8"/><rect x="1803" y="1153" width="2" height="4" fill="#f7bcb8"/><rect x="1807" y="1155" width="2" height="2" fill="#f7bcb8"/><rect x="1811" y="1153" width="2" height="4" fill="#b2dfd8"/><rect x="1813" y="1153" width="2" height="4" fill="#f7bcb8"/><rect x="1817" y="1153" width="2" height="4" fill="#b2dfd8"/><rect x="1821" y="1133" width="2" height="24" fill="#b2dfd8"/><rect x="1823" y="1145" width="2" height="12" fill="#f7bcb8"/><rect x="1827" y="1151" width="2" height="6" fill="#b2dfd8"/><rect x="1829" y="1151" width="2" height="6" fill="#f7bcb8"/><rect x="1833" y="1151" width="2" height="6" fill="#b2dfd8"/><rect x="1837" y="1151" width="2" height="6" fill="#f7bcb8"/><rect x="1839" y="1155" width="2" height="2" fill="#f7bcb8"/><rect x="1843" y="1153" width="2" height="4" fill="#b2dfd8"/><rect x="1847" y="1155" width="2" height="2" fill="#f7bcb8"/><rect x="1849" y="1155" width="2" height="2" fill="#b2dfd8"/><rect x="1853" y="1155" width="2" height="2" fill="#b2dfd8"/><rect x="1857" y="1155" width="2" height="2" fill="#f7bcb8"/><rect x="1859" y="1155" width="2" height="2" fill="#f7bcb8"/><rect x="1863" y="1153" width="2" height="4" fill="#f7bcb8"/><rect x="1865" y="1151" width="2" height="6" fill="#f7bcb8"/><rect x="1869" y="1155" width="2" height="2" fill="#b2dfd8"/><rect x="1873" y="1155" width="2" height="2" fill="#f7bcb8"/><rect x="1875" y="1153" width="2" height="4" fill="#b2dfd8"/><rect x="1879" y="1155" width="2" height="2" fill="#b2dfd8"/><rect x="1883" y="1155" width="2" height="2" fill="#b2dfd8"/><rect x="1885" y="1155" width="2" height="2" fill="#f7bcb8"/><rect x="1889" y="1151" width="2" height="6" fill="#b2dfd8"/><rect x="1893" y="1151" width="2" height="6" fill="#f7bcb8"/><rect x="1895" y="1155" width="2" height="2" fill="#f7bcb8"/><rect x="1899" y="1151" width="2" height="6" fill="#b2dfd8"/><rect x="1903" y="1149" width="2" height="8" fill="#b2dfd8"/><rect x="1905" y="1145" width="2" height="12" fill="#f7bcb8"/><rect x="1909" y="1149" width="2" height="8" fill="#b2dfd8"/><rect x="1911" y="1147" width="2" height="10" fill="#f7bcb8"/><rect x="1915" y="1151" width="2" height="6" fill="#f7bcb8"/><rect x="1919" y="1141" width="2" height="16" fill="#b2dfd8"/><rect x="1921" y="1145" width="2" height="12" fill="#b2dfd8"/><rect x="1925" y="1151" width="2" height="6" fill="#f7bcb8"/><rect x="1929" y="1153" width="2" height="4" fill="#b2dfd8"/><rect x="1931" y="1151" width="2" height="6" fill="#f7bcb8"/><rect x="1935" y="1149" width="2" height="8" fill="#b2dfd8"/><rect x="1939" y="1149" width="2" height="8" fill="#f7bcb8"/><rect x="1941" y="1151" width="2" height="6" fill="#f7bcb8"/><rect x="1945" y="1153" width="2" height="4" fill="#f7bcb8"/><rect x="1949" y="1141" width="2" height="16" fill="#f7bcb8"/><rect x="1951" y="1153" width="2" height="4" fill="#f7bcb8"/><rect x="1955" y="1153" width="2" height="4" fill="#b2dfd8"/><rect x="1957" y="1151" width="2" height="6" fill="#f7bcb8"/><rect x="1961" y="1151" width="2" height="6" fill="#b2dfd8"/><rect x="1965" y="1145" width="2" height="12" fill="#f7bcb8"/><rect x="1967" y="1145" width="2" height="12" fill="#b2dfd8"/><rect x="1971" y="1141" width="2" height="16" fill="#b2dfd8"/><rect x="1975" y="1149" width="2" height="8" fill="#b2dfd8"/><rect x="1977" y="1147" width="2" height="10" fill="#b2dfd8"/><rect x="1981" y="1135" width="2" height="22" fill="#f7bcb8"/><rect x="1985" y="1143" width="2" height="14" fill="#b2dfd8"/><rect x="1987" y="1139" width="2" height="18" fill="#f7bcb8"/><rect x="1991" y="1147" width="2" height="10" fill="#b2dfd8"/><rect x="1995" y="1143" width="2" height="14" fill="#f7bcb8"/><rect x="1997" y="1131" width="2" height="26" fill="#f7bcb8"/><rect x="2001" y="1151" width="2" height="6" fill="#b2dfd8"/><rect x="2003" y="1151" width="2" height="6" fill="#b2dfd8"/><rect x="2007" y="1151" width="2" height="6" fill="#f7bcb8"/><rect x="2011" y="1151" width="2" height="6" fill="#b2dfd8"/><rect x="2013" y="1151" width="2" height="6" fill="#f7bcb8"/><rect x="2017" y="1153" width="2" height="4" fill="#b2dfd8"/><rect x="2021" y="1147" width="2" height="10" fill="#b2dfd8"/><rect x="2023" y="1149" width="2" height="8" fill="#f7bcb8"/><rect x="2027" y="1147" width="2" height="10" fill="#f7bcb8"/><rect x="2031" y="1149" width="2" height="8" fill="#b2dfd8"/><rect x="2033" y="1149" width="2" height="8" fill="#b2dfd8"/><rect x="2037" y="1149" width="2" height="8" fill="#b2dfd8"/><rect x="2039" y="1147" width="2" height="10" fill="#f7bcb8"/><rect x="2043" y="1147" width="2" height="10" fill="#f7bcb8"/><rect x="2047" y="1141" width="2" height="16" fill="#b2dfd8"/><rect x="2049" y="1149" width="2" height="8" fill="#b2dfd8"/><rect x="2053" y="1151" width="2" height="6" fill="#b2dfd8"/><rect x="2057" y="1147" width="2" height="10" fill="#b2dfd8"/><rect x="2059" y="1145" width="2" height="12" fill="#f7bcb8"/><rect x="2063" y="1145" width="2" height="12" fill="#f7bcb8"/><rect x="2067" y="1143" width="2" height="14" fill="#b2dfd8"/><rect x="2069" y="1145" width="2" height="12" fill="#f7bcb8"/><rect x="2073" y="1147" width="2" height="10" fill="#b2dfd8"/><rect x="2077" y="1151" width="2" height="6" fill="#f7bcb8"/><rect x="2079" y="1149" width="2" height="8" fill="#b2dfd8"/><rect x="2083" y="1145" width="2" height="12" fill="#b2dfd8"/><rect x="2085" y="1145" width="2" height="12" fill="#b2dfd8"/><rect x="2089" y="1147" width="2" height="10" fill="#f7bcb8"/><rect x="2093" y="1149" width="2" height="8" fill="#b2dfd8"/><rect x="2095" y="1149" width="2" height="8" fill="#b2dfd8"/><rect x="2099" y="1147" width="2" height="10" fill="#f7bcb8"/><rect x="2103" y="1151" width="2" height="6" fill="#f7bcb8"/><rect x="2105" y="1153" width="2" height="4" fill="#f7bcb8"/><rect x="2109" y="1151" width="2" height="6" fill="#f7bcb8"/><rect x="2113" y="1151" width="2" height="6" fill="#b2dfd8"/><rect x="2115" y="1151" width="2" height="6" fill="#f7bcb8"/><rect x="2119" y="1151" width="2" height="6" fill="#b2dfd8"/><rect x="2123" y="1151" width="2" height="6" fill="#b2dfd8"/><rect x="2125" y="1151" width="2" height="6" fill="#f7bcb8"/><rect x="2129" y="1153" width="2" height="4" fill="#b2dfd8"/><rect x="2131" y="1151" width="2" height="6" fill="#f7bcb8"/><rect x="2135" y="1151" width="2" height="6" fill="#b2dfd8"/><rect x="2139" y="1131" width="2" height="26" fill="#b2dfd8"/><rect x="2141" y="1099" width="2" height="58" fill="#f7bcb8"/><rect x="2145" y="1123" width="2" height="34" fill="#f7bcb8"/><rect x="2149" y="1137" width="2" height="20" fill="#b2dfd8"/><rect x="2151" y="1141" width="2" height="16" fill="#b2dfd8"/><rect x="2155" y="1143" width="2" height="14" fill="#b2dfd8"/><rect x="2159" y="1135" width="2" height="22" fill="#b2dfd8"/><rect x="2161" y="1139" width="2" height="18" fill="#f7bcb8"/><rect x="2165" y="1119" width="2" height="38" fill="#b2dfd8"/><rect x="2169" y="1119" width="2" height="38" fill="#f7bcb8"/><rect x="2171" y="1139" width="2" height="18" fill="#f7bcb8"/><rect x="2175" y="1147" width="2" height="10" fill="#b2dfd8"/><rect x="2177" y="1141" width="2" height="16" fill="#b2dfd8"/><rect x="2181" y="1147" width="2" height="10" fill="#b2dfd8"/><rect x="2185" y="1131" width="2" height="26" fill="#b2dfd8"/><rect x="2187" y="1141" width="2" height="16" fill="#f7bcb8"/><rect x="2191" y="1149" width="2" height="8" fill="#f7bcb8"/><rect x="2195" y="1139" width="2" height="18" fill="#f7bcb8"/><rect x="2197" y="1143" width="2" height="14" fill="#b2dfd8"/><rect x="2201" y="1147" width="2" height="10" fill="#b2dfd8"/><rect x="2205" y="1145" width="2" height="12" fill="#b2dfd8"/><rect x="2207" y="1147" width="2" height="10" fill="#b2dfd8"/><rect x="2211" y="1147" width="2" height="10" fill="#f7bcb8"/><rect x="2213" y="1149" width="2" height="8" fill="#b2dfd8"/><rect x="2217" y="1149" width="2" height="8" fill="#f7bcb8"/><rect x="2221" y="1125" width="2" height="32" fill="#f7bcb8"/><rect x="2223" y="1131" width="2" height="26" fill="#f7bcb8"/><rect x="2227" y="1133" width="2" height="24" fill="#f7bcb8"/><rect x="2231" y="1129" width="2" height="28" fill="#b2dfd8"/><rect x="2233" y="1143" width="2" height="14" fill="#b2dfd8"/><rect x="2237" y="1145" width="2" height="12" fill="#b2dfd8"/><rect x="2241" y="1145" width="2" height="12" fill="#b2dfd8"/><rect x="2243" y="1141" width="2" height="16" fill="#f7bcb8"/><rect x="2247" y="1151" width="2" height="6" fill="#b2dfd8"/><rect x="2251" y="1151" width="2" height="6" fill="#f7bcb8"/><rect x="2253" y="1151" width="2" height="6" fill="#b2dfd8"/><rect x="2257" y="1135" width="2" height="22" fill="#f7bcb8"/><rect x="2259" y="1145" width="2" height="12" fill="#b2dfd8"/><rect x="2263" y="1151" width="2" height="6" fill="#b2dfd8"/><rect x="2267" y="1153" width="2" height="4" fill="#b2dfd8"/><rect x="2269" y="1145" width="2" height="12" fill="#f7bcb8"/><rect x="2273" y="1149" width="2" height="8" fill="#b2dfd8"/><rect x="2277" y="1149" width="2" height="8" fill="#f7bcb8"/><rect x="2279" y="1147" width="2" height="10" fill="#b2dfd8"/><rect x="2283" y="1137" width="2" height="20" fill="#f7bcb8"/><rect x="2287" y="1139" width="2" height="18" fill="#f7bcb8"/><rect x="2289" y="1139" width="2" height="18" fill="#b2dfd8"/><rect x="2293" y="1145" width="2" height="12" fill="#f7bcb8"/><rect x="2297" y="1141" width="2" height="16" fill="#b2dfd8"/><rect x="2299" y="1145" width="2" height="12" fill="#b2dfd8"/><rect x="2303" y="1137" width="2" height="20" fill="#b2dfd8"/><rect x="2305" y="1141" width="2" height="16" fill="#b2dfd8"/><rect x="2309" y="1143" width="2" height="14" fill="#f7bcb8"/><rect x="2313" y="1141" width="2" height="16" fill="#f7bcb8"/><rect x="2315" y="1147" width="2" height="10" fill="#b2dfd8"/><rect x="2319" y="1149" width="2" height="8" fill="#b2dfd8"/><rect x="2323" y="1149" width="2" height="8" fill="#b2dfd8"/><rect x="2325" y="1151" width="2" height="6" fill="#b2dfd8"/><rect x="2329" y="1153" width="2" height="4" fill="#b2dfd8"/><rect x="2333" y="1151" width="2" height="6" fill="#b2dfd8"/><rect x="2335" y="1153" width="2" height="4" fill="#f7bcb8"/><rect x="2339" y="1151" width="2" height="6" fill="#b2dfd8"/><rect x="2341" y="1153" width="2" height="4" fill="#f7bcb8"/><rect x="2345" y="1155" width="2" height="2" fill="#b2dfd8"/><rect x="2349" y="1153" width="2" height="4" fill="#f7bcb8"/><rect x="2351" y="1151" width="2" height="6" fill="#b2dfd8"/><rect x="2355" y="1141" width="2" height="16" fill="#b2dfd8"/><rect x="2359" y="1151" width="2" height="6" fill="#f7bcb8"/><rect x="2361" y="1151" width="2" height="6" fill="#b2dfd8"/><rect x="2365" y="1151" width="2" height="6" fill="#f7bcb8"/><rect x="2369" y="1153" width="2" height="4" fill="#f7bcb8"/><rect x="2371" y="1153" width="2" height="4" fill="#f7bcb8"/><rect x="2375" y="1153" width="2" height="4" fill="#b2dfd8"/><rect x="2379" y="1153" width="2" height="4" fill="#f7bcb8"/><rect x="2381" y="1151" width="2" height="6" fill="#b2dfd8"/><rect x="2385" y="1153" width="2" height="4" fill="#f7bcb8"/><rect x="2387" y="1153" width="2" height="4" fill="#f7bcb8"/><rect x="2391" y="1155" width="2" height="2" fill="#b2dfd8"/><rect x="2395" y="1155" width="2" height="2" fill="#b2dfd8"/><rect x="2397" y="1155" width="2" height="2" fill="#f7bcb8"/><rect x="2401" y="1155" width="2" height="2" fill="#b2dfd8"/><rect x="2405" y="1153" width="2" height="4" fill="#b2dfd8"/><rect x="2407" y="1141" width="2" height="16" fill="#b2dfd8"/><rect x="2411" y="1143" width="2" height="14" fill="#f7bcb8"/><rect x="2415" y="1149" width="2" height="8" fill="#f7bcb8"/><rect x="2417" y="1153" width="2" height="4" fill="#b2dfd8"/><rect x="2421" y="1153" width="2" height="4" fill="#f7bcb8"/><rect x="2425" y="1147" width="2" height="10" fill="#b2dfd8"/><rect x="2427" y="1147" width="2" height="10" fill="#f7bcb8"/><rect x="2431" y="1151" width="2" height="6" fill="#b2dfd8"/><rect x="2433" y="1151" width="2" height="6" fill="#f7bcb8"/><rect x="2437" y="1151" width="2" height="6" fill="#b2dfd8"/><rect x="2441" y="1149" width="2" height="8" fill="#f7bcb8"/><rect x="2443" y="1151" width="2" height="6" fill="#b2dfd8"/><rect x="2447" y="1151" width="2" height="6" fill="#b2dfd8"/><rect x="2451" y="1151" width="2" height="6" fill="#f7bcb8"/><rect x="2453" y="1149" width="2" height="8" fill="#f7bcb8"/><rect x="2457" y="1147" width="2" height="10" fill="#f7bcb8"/><rect x="2461" y="1149" width="2" height="8" fill="#b2dfd8"/><rect x="2463" y="1153" width="2" height="4" fill="#f7bcb8"/><rect x="2467" y="1153" width="2" height="4" fill="#b2dfd8"/><rect x="2471" y="1143" width="2" height="14" fill="#b2dfd8"/><rect x="2473" y="1153" width="2" height="4" fill="#f7bcb8"/><rect x="2477" y="1153" width="2" height="4" fill="#f7bcb8"/><rect x="2479" y="1153" width="2" height="4" fill="#b2dfd8"/><rect x="2483" y="1143" width="2" height="14" fill="#f7bcb8"/><rect x="2487" y="1149" width="2" height="8" fill="#b2dfd8"/><rect x="2489" y="1139" width="2" height="18" fill="#b2dfd8"/><rect x="2493" y="1149" width="2" height="8" fill="#b2dfd8"/><rect x="2497" y="1149" width="2" height="8" fill="#f7bcb8"/><rect x="2499" y="1151" width="2" height="6" fill="#b2dfd8"/><rect x="2503" y="1153" width="2" height="4" fill="#b2dfd8"/><rect x="2507" y="1149" width="2" height="8" fill="#f7bcb8"/><rect x="2509" y="1149" width="2" height="8" fill="#f7bcb8"/><rect x="2513" y="1153" width="2" height="4" fill="#b2dfd8"/><rect x="2515" y="1153" width="2" height="4" fill="#b2dfd8"/><rect x="2519" y="1153" width="2" height="4" fill="#b2dfd8"/><rect x="2523" y="1149" width="2" height="8" fill="#b2dfd8"/><rect x="2525" y="1147" width="2" height="10" fill="#b2dfd8"/><rect x="2529" y="1149" width="2" height="8" fill="#b2dfd8"/><rect x="2533" y="1147" width="2" height="10" fill="#f7bcb8"/><rect x="2535" y="1143" width="2" height="14" fill="#f7bcb8"/><rect x="2539" y="1149" width="2" height="8" fill="#b2dfd8"/><rect x="2543" y="1151" width="2" height="6" fill="#f7bcb8"/><rect x="2545" y="1149" width="2" height="8" fill="#f7bcb8"/><rect x="2549" y="1151" width="2" height="6" fill="#b2dfd8"/><rect x="2553" y="1151" width="2" height="6" fill="#f7bcb8"/></g>
<g><rect x="51" y="957" width="2" height="7" fill="#089981"/><rect x="55" y="949" width="2" height="8" fill="#089981"/><rect x="57" y="943" width="2" height="7" fill="#089981"/><rect x="61" y="945" width="2" height="4" fill="#089981"/><rect x="65" y="947" width="2" height="8" fill="#e83b31"/><rect x="67" y="949" width="2" height="6" fill="#e83b31"/><rect x="71" y="951" width="2" height="6" fill="#e83b31"/><rect x="73" y="937" width="2" height="18" fill="#089981"/><rect x="77" y="935" width="2" height="6" fill="#e83b31"/><rect x="81" y="931" width="2" height="12" fill="#089981"/><rect x="83" y="921" width="2" height="13" fill="#e83b31"/><rect x="87" y="923" width="2" height="18" fill="#089981"/><rect x="91" y="923" width="2" height="61" fill="#e83b31"/><rect x="93" y="931" width="2" height="57" fill="#089981"/><rect x="97" y="931" width="2" height="26" fill="#089981"/><rect x="101" y="895" width="2" height="44" fill="#089981"/><rect x="103" y="897" width="2" height="24" fill="#e83b31"/><rect x="107" y="899" width="2" height="22" fill="#089981"/><rect x="111" y="899" width="2" height="14" fill="#e83b31"/><rect x="113" y="895" width="2" height="18" fill="#089981"/><rect x="117" y="897" width="2" height="14" fill="#089981"/><rect x="119" y="867" width="2" height="40" fill="#089981"/><rect x="123" y="885" width="2" height="18" fill="#e83b31"/><rect x="127" y="901" width="2" height="12" fill="#e83b31"/><rect x="129" y="903" width="2" height="14" fill="#e83b31"/><rect x="133" y="905" width="2" height="8" fill="#e83b31"/><rect x="137" y="907" width="2" height="6" fill="#e83b31"/><rect x="139" y="905" width="2" height="8" fill="#089981"/><rect x="143" y="907" width="2" height="2" fill="#089981"/><rect x="147" y="905" width="2" height="6" fill="#e83b31"/><rect x="149" y="909" width="2" height="4" fill="#e83b31"/><rect x="153" y="907" width="2" height="6" fill="#089981"/><rect x="157" y="897" width="2" height="14" fill="#089981"/><rect x="159" y="897" width="2" height="10" fill="#e83b31"/><rect x="163" y="903" width="2" height="4" fill="#e83b31"/><rect x="165" y="897" width="2" height="10" fill="#e83b31"/><rect x="169" y="901" width="2" height="4" fill="#089981"/><rect x="173" y="901" width="2" height="10" fill="#e83b31"/><rect x="175" y="903" width="2" height="6" fill="#089981"/><rect x="179" y="903" width="2" height="6" fill="#e83b31"/><rect x="183" y="903" width="2" height="4" fill="#089981"/><rect x="185" y="903" width="2" height="6" fill="#e83b31"/><rect x="189" y="905" width="2" height="8" fill="#e83b31"/><rect x="193" y="907" width="2" height="8" fill="#e83b31"/><rect x="195" y="907" width="2" height="8" fill="#089981"/><rect x="199" y="903" width="2" height="6" fill="#089981"/><rect x="203" y="903" width="2" height="4" fill="#089981"/><rect x="205" y="903" width="2" height="2" fill="#089981"/><rect x="209" y="901" width="2" height="4" fill="#089981"/><rect x="211" y="897" width="2" height="8" fill="#089981"/><rect x="215" y="889" width="2" height="12" fill="#e83b31"/><rect x="219" y="889" width="2" height="10" fill="#089981"/><rect x="221" y="891" width="2" height="16" fill="#e83b31"/><rect x="225" y="905" width="2" height="8" fill="#089981"/><rect x="229" y="905" width="2" height="6" fill="#e83b31"/><rect x="231" y="907" width="2" height="4" fill="#089981"/><rect x="235" y="905" width="2" height="8" fill="#089981"/><rect x="239" y="907" width="2" height="10" fill="#e83b31"/><rect x="241" y="911" width="2" height="12" fill="#e83b31"/><rect x="245" y="915" width="2" height="6" fill="#e83b31"/><rect x="247" y="913" width="2" height="8" fill="#e83b31"/><rect x="251" y="899" width="2" height="34" fill="#089981"/><rect x="255" y="901" width="2" height="12" fill="#089981"/><rect x="257" y="905" width="2" height="6" fill="#e83b31"/><rect x="261" y="905" width="2" height="8" fill="#089981"/><rect x="265" y="905" width="2" height="8" fill="#e83b31"/><rect x="267" y="913" width="2" height="6" fill="#e83b31"/><rect x="271" y="907" width="2" height="6" fill="#089981"/><rect x="275" y="907" width="2" height="6" fill="#089981"/><rect x="277" y="901" width="2" height="10" fill="#089981"/><rect x="281" y="905" width="2" height="16" fill="#089981"/><rect x="285" y="905" width="2" height="6" fill="#e83b31"/><rect x="287" y="907" width="2" height="14" fill="#e83b31"/><rect x="291" y="901" width="2" height="20" fill="#089981"/><rect x="293" y="901" width="2" height="6" fill="#e83b31"/><rect x="297" y="903" width="2" height="4" fill="#e83b31"/><rect x="301" y="905" width="2" height="2" fill="#089981"/><rect x="303" y="907" width="2" height="8" fill="#e83b31"/><rect x="307" y="909" width="2" height="6" fill="#089981"/><rect x="311" y="909" width="2" height="10" fill="#e83b31"/><rect x="313" y="917" width="2" height="12" fill="#e83b31"/><rect x="317" y="921" width="2" height="38" fill="#e83b31"/><rect x="321" y="941" width="2" height="14" fill="#089981"/><rect x="323" y="949" width="2" height="14" fill="#e83b31"/><rect x="327" y="947" width="2" height="17" fill="#e83b31"/><rect x="331" y="949" width="2" height="18" fill="#089981"/><rect x="333" y="945" width="2" height="11" fill="#e83b31"/><rect x="337" y="949" width="2" height="12" fill="#e83b31"/><rect x="339" y="947" width="2" height="32" fill="#e83b31"/><rect x="343" y="943" width="2" height="28" fill="#089981"/><rect x="347" y="925" width="2" height="20" fill="#e83b31"/><rect x="349" y="937" width="2" height="12" fill="#089981"/><rect x="353" y="937" width="2" height="9" fill="#e83b31"/><rect x="357" y="937" width="2" height="9" fill="#089981"/><rect x="359" y="937" width="2" height="8" fill="#e83b31"/><rect x="363" y="941" width="2" height="4" fill="#089981"/><rect x="367" y="939" width="2" height="10" fill="#e83b31"/><rect x="369" y="941" width="2" height="12" fill="#089981"/><rect x="373" y="931" width="2" height="14" fill="#089981"/><rect x="375" y="933" width="2" height="6" fill="#e83b31"/><rect x="379" y="939" width="2" height="4" fill="#e83b31"/><rect x="383" y="941" width="2" height="4" fill="#089981"/><rect x="385" y="935" width="2" height="6" fill="#089981"/><rect x="389" y="931" width="2" height="6" fill="#e83b31"/><rect x="393" y="927" width="2" height="10" fill="#089981"/><rect x="395" y="933" width="2" height="4" fill="#e83b31"/><rect x="399" y="933" width="2" height="8" fill="#e83b31"/><rect x="403" y="941" width="2" height="12" fill="#e83b31"/><rect x="405" y="949" width="2" height="14" fill="#e83b31"/><rect x="409" y="955" width="2" height="16" fill="#e83b31"/><rect x="413" y="939" width="2" height="30" fill="#089981"/><rect x="415" y="955" width="2" height="14" fill="#e83b31"/><rect x="419" y="951" width="2" height="20" fill="#089981"/><rect x="421" y="957" width="2" height="12" fill="#e83b31"/><rect x="425" y="965" width="2" height="10" fill="#e83b31"/><rect x="429" y="961" width="2" height="12" fill="#089981"/><rect x="431" y="961" width="2" height="12" fill="#089981"/><rect x="435" y="957" width="2" height="8" fill="#089981"/><rect x="439" y="957" width="2" height="4" fill="#089981"/><rect x="441" y="957" width="2" height="8" fill="#e83b31"/><rect x="445" y="955" width="2" height="10" fill="#089981"/><rect x="449" y="955" width="2" height="6" fill="#e83b31"/><rect x="451" y="959" width="2" height="44" fill="#e83b31"/><rect x="455" y="991" width="2" height="16" fill="#e83b31"/><rect x="459" y="993" width="2" height="18" fill="#089981"/><rect x="461" y="991" width="2" height="10" fill="#e83b31"/><rect x="465" y="995" width="2" height="6" fill="#e83b31"/><rect x="467" y="997" width="2" height="8" fill="#e83b31"/><rect x="471" y="995" width="2" height="10" fill="#089981"/><rect x="475" y="975" width="2" height="22" fill="#089981"/><rect x="477" y="971" width="2" height="12" fill="#e83b31"/><rect x="481" y="975" width="2" height="14" fill="#e83b31"/><rect x="485" y="979" width="2" height="24" fill="#e83b31"/><rect x="487" y="987" width="2" height="12" fill="#e83b31"/><rect x="491" y="989" width="2" height="16" fill="#e83b31"/><rect x="495" y="997" width="2" height="40" fill="#e83b31"/><rect x="497" y="1032" width="2" height="17" fill="#e83b31"/><rect x="501" y="1039" width="2" height="20" fill="#e83b31"/><rect x="505" y="1039" width="2" height="14" fill="#089981"/><rect x="507" y="1031" width="2" height="12" fill="#089981"/><rect x="511" y="1031" width="2" height="10" fill="#e83b31"/><rect x="513" y="1033" width="2" height="10" fill="#089981"/><rect x="517" y="1029" width="2" height="10" fill="#089981"/><rect x="521" y="1021" width="2" height="14" fill="#089981"/><rect x="523" y="1021" width="2" height="10" fill="#e83b31"/><rect x="527" y="1029" width="2" height="8" fill="#e83b31"/><rect x="531" y="1013" width="2" height="22" fill="#089981"/><rect x="533" y="1017" width="2" height="10" fill="#e83b31"/><rect x="537" y="1025" width="2" height="4" fill="#e83b31"/><rect x="541" y="1021" width="2" height="10" fill="#089981"/><rect x="543" y="1017" width="2" height="8" fill="#e83b31"/><rect x="547" y="1021" width="2" height="8" fill="#e83b31"/><rect x="549" y="1027" width="2" height="6" fill="#e83b31"/><rect x="553" y="1027" width="2" height="18" fill="#e83b31"/><rect x="557" y="1031" width="2" height="6" fill="#089981"/><rect x="559" y="1023" width="2" height="16" fill="#089981"/><rect x="563" y="1023" width="2" height="12" fill="#e83b31"/><rect x="567" y="1023" width="2" height="20" fill="#e83b31"/><rect x="569" y="1033" width="2" height="16" fill="#e83b31"/><rect x="573" y="1037" width="2" height="12" fill="#e83b31"/><rect x="577" y="1029" width="2" height="26" fill="#e83b31"/><rect x="579" y="1041" width="2" height="16" fill="#e83b31"/><rect x="583" y="1037" width="2" height="16" fill="#089981"/><rect x="587" y="1037" width="2" height="12" fill="#089981"/><rect x="589" y="1035" width="2" height="6" fill="#089981"/><rect x="593" y="1033" width="2" height="6" fill="#e83b31"/><rect x="595" y="1033" width="2" height="4" fill="#e83b31"/><rect x="599" y="1033" width="2" height="8" fill="#089981"/><rect x="603" y="1023" width="2" height="12" fill="#089981"/><rect x="605" y="1021" width="2" height="10" fill="#e83b31"/><rect x="609" y="1029" width="2" height="2" fill="#089981"/><rect x="613" y="1027" width="2" height="6" fill="#e83b31"/><rect x="615" y="1029" width="2" height="4" fill="#089981"/><rect x="619" y="1027" width="2" height="4" fill="#089981"/><rect x="623" y="1023" width="2" height="6" fill="#e83b31"/><rect x="625" y="1013" width="2" height="16" fill="#089981"/><rect x="629" y="1019" width="2" height="12" fill="#e83b31"/><rect x="633" y="1027" width="2" height="10" fill="#e83b31"/><rect x="635" y="1031" width="2" height="6" fill="#089981"/><rect x="639" y="1023" width="2" height="10" fill="#089981"/><rect x="641" y="1015" width="2" height="18" fill="#089981"/><rect x="645" y="1011" width="2" height="16" fill="#e83b31"/><rect x="649" y="1023" width="2" height="14" fill="#e83b31"/><rect x="651" y="1031" width="2" height="12" fill="#e83b31"/><rect x="655" y="1029" width="2" height="12" fill="#089981"/><rect x="659" y="1029" width="2" height="14" fill="#e83b31"/><rect x="661" y="1031" width="2" height="6" fill="#e83b31"/><rect x="665" y="1031" width="2" height="8" fill="#089981"/><rect x="669" y="999" width="2" height="36" fill="#089981"/><rect x="671" y="993" width="2" height="32" fill="#089981"/><rect x="675" y="999" width="2" height="36" fill="#e83b31"/><rect x="679" y="1023" width="2" height="10" fill="#089981"/><rect x="681" y="1019" width="2" height="4" fill="#089981"/><rect x="685" y="1015" width="2" height="10" fill="#089981"/><rect x="687" y="1015" width="2" height="6" fill="#e83b31"/><rect x="691" y="1009" width="2" height="10" fill="#089981"/><rect x="695" y="1015" width="2" height="4" fill="#e83b31"/><rect x="697" y="1015" width="2" height="6" fill="#e83b31"/><rect x="701" y="1019" width="2" height="6" fill="#e83b31"/><rect x="705" y="1021" width="2" height="4" fill="#089981"/><rect x="707" y="1021" width="2" height="4" fill="#e83b31"/><rect x="711" y="1021" width="2" height="2" fill="#089981"/><rect x="715" y="1019" width="2" height="4" fill="#e83b31"/><rect x="717" y="1021" width="2" height="4" fill="#e83b31"/><rect x="721" y="1019" width="2" height="6" fill="#089981"/><rect x="723" y="1017" width="2" height="4" fill="#089981"/><rect x="727" y="1017" width="2" height="6" fill="#e83b31"/><rect x="731" y="1013" width="2" height="8" fill="#089981"/><rect x="733" y="1013" width="2" height="6" fill="#e83b31"/><rect x="737" y="1015" width="2" height="6" fill="#e83b31"/><rect x="741" y="1019" width="2" height="4" fill="#e83b31"/><rect x="743" y="1019" width="2" height="6" fill="#e83b31"/><rect x="747" y="1023" width="2" height="6" fill="#e83b31"/><rect x="751" y="1021" width="2" height="10" fill="#e83b31"/><rect x="753" y="1023" width="2" height="4" fill="#089981"/><rect x="757" y="1023" width="2" height="2" fill="#089981"/><rect x="761" y="1023" width="2" height="6" fill="#e83b31"/><rect x="763" y="1017" width="2" height="8" fill="#089981"/><rect x="767" y="1019" width="2" height="2" fill="#e83b31"/><rect x="769" y="1017" width="2" height="4" fill="#e83b31"/><rect x="773" y="1019" width="2" height="2" fill="#089981"/><rect x="787" y="1017" width="2" height="4" fill="#089981"/><rect x="789" y="1017" width="2" height="2" fill="#e83b31"/><rect x="797" y="1019" width="2" height="6" fill="#e83b31"/><rect x="799" y="1023" width="2" height="4" fill="#e83b31"/><rect x="803" y="1011" width="2" height="18" fill="#089981"/><rect x="807" y="1017" width="2" height="6" fill="#089981"/><rect x="809" y="1017" width="2" height="8" fill="#089981"/><rect x="813" y="1015" width="2" height="4" fill="#089981"/><rect x="815" y="1005" width="2" height="12" fill="#089981"/><rect x="819" y="1001" width="2" height="12" fill="#089981"/><rect x="823" y="999" width="2" height="10" fill="#e83b31"/><rect x="825" y="981" width="2" height="24" fill="#089981"/><rect x="829" y="983" width="2" height="16" fill="#e83b31"/><rect x="833" y="975" width="2" height="24" fill="#e83b31"/><rect x="835" y="991" width="2" height="12" fill="#089981"/><rect x="839" y="987" width="2" height="8" fill="#e83b31"/><rect x="843" y="977" width="2" height="14" fill="#089981"/><rect x="845" y="977" width="2" height="10" fill="#e83b31"/><rect x="849" y="981" width="2" height="8" fill="#089981"/><rect x="851" y="977" width="2" height="10" fill="#089981"/><rect x="855" y="901" width="2" height="78" fill="#089981"/><rect x="859" y="903" width="2" height="18" fill="#e83b31"/><rect x="861" y="907" width="2" height="14" fill="#089981"/><rect x="865" y="909" width="2" height="9" fill="#e83b31"/><rect x="869" y="919" width="2" height="18" fill="#e83b31"/><rect x="871" y="922" width="2" height="9" fill="#089981"/><rect x="875" y="923" width="2" height="11" fill="#e83b31"/><rect x="879" y="911" width="2" height="20" fill="#089981"/><rect x="881" y="693" width="2" height="236" fill="#089981"/><rect x="885" y="857" width="2" height="53" fill="#089981"/><rect x="889" y="878" width="2" height="17" fill="#e83b31"/><rect x="891" y="879" width="2" height="14" fill="#089981"/><rect x="895" y="873" width="2" height="15" fill="#089981"/><rect x="897" y="837" width="2" height="37" fill="#089981"/><rect x="901" y="815" width="2" height="42" fill="#e83b31"/><rect x="905" y="831" width="2" height="34" fill="#e83b31"/><rect x="907" y="851" width="2" height="24" fill="#089981"/><rect x="911" y="841" width="2" height="17" fill="#089981"/><rect x="915" y="841" width="2" height="12" fill="#e83b31"/><rect x="917" y="841" width="2" height="34" fill="#e83b31"/><rect x="921" y="855" width="2" height="15" fill="#089981"/><rect x="925" y="859" width="2" height="9" fill="#089981"/><rect x="927" y="861" width="2" height="12" fill="#e83b31"/><rect x="931" y="871" width="2" height="20" fill="#e83b31"/><rect x="935" y="875" width="2" height="7" fill="#089981"/><rect x="937" y="873" width="2" height="14" fill="#089981"/><rect x="941" y="849" width="2" height="28" fill="#089981"/><rect x="943" y="845" width="2" height="18" fill="#089981"/><rect x="947" y="849" width="2" height="12" fill="#089981"/><rect x="951" y="835" width="2" height="19" fill="#089981"/><rect x="953" y="843" width="2" height="11" fill="#e83b31"/><rect x="957" y="849" width="2" height="32" fill="#e83b31"/><rect x="961" y="857" width="2" height="28" fill="#089981"/><rect x="963" y="845" width="2" height="24" fill="#089981"/><rect x="967" y="837" width="2" height="16" fill="#e83b31"/><rect x="971" y="835" width="2" height="18" fill="#089981"/><rect x="973" y="835" width="2" height="26" fill="#e83b31"/><rect x="977" y="847" width="2" height="20" fill="#e83b31"/><rect x="981" y="845" width="2" height="18" fill="#089981"/><rect x="983" y="843" width="2" height="10" fill="#e83b31"/><rect x="987" y="841" width="2" height="14" fill="#089981"/><rect x="989" y="847" width="2" height="12" fill="#e83b31"/><rect x="993" y="853" width="2" height="6" fill="#e83b31"/><rect x="997" y="853" width="2" height="12" fill="#e83b31"/><rect x="999" y="855" width="2" height="10" fill="#e83b31"/><rect x="1003" y="845" width="2" height="16" fill="#089981"/><rect x="1007" y="845" width="2" height="8" fill="#089981"/><rect x="1009" y="797" width="2" height="56" fill="#089981"/><rect x="1013" y="809" width="2" height="22" fill="#e83b31"/><rect x="1017" y="821" width="2" height="11" fill="#e83b31"/><rect x="1019" y="829" width="2" height="20" fill="#e83b31"/><rect x="1023" y="839" width="2" height="10" fill="#089981"/><rect x="1025" y="837" width="2" height="38" fill="#e83b31"/><rect x="1029" y="855" width="2" height="15" fill="#089981"/><rect x="1033" y="857" width="2" height="6" fill="#e83b31"/><rect x="1035" y="857" width="2" height="11" fill="#e83b31"/><rect x="1039" y="859" width="2" height="11" fill="#e83b31"/><rect x="1043" y="861" width="2" height="21" fill="#e83b31"/><rect x="1045" y="869" width="2" height="13" fill="#089981"/><rect x="1049" y="857" width="2" height="18" fill="#089981"/><rect x="1053" y="853" width="2" height="11" fill="#e83b31"/><rect x="1055" y="861" width="2" height="7" fill="#e83b31"/><rect x="1059" y="863" width="2" height="10" fill="#e83b31"/><rect x="1063" y="867" width="2" height="12" fill="#089981"/><rect x="1065" y="869" width="2" height="8" fill="#089981"/><rect x="1069" y="863" width="2" height="10" fill="#089981"/><rect x="1071" y="859" width="2" height="8" fill="#e83b31"/><rect x="1075" y="857" width="2" height="11" fill="#089981"/><rect x="1079" y="855" width="2" height="33" fill="#e83b31"/><rect x="1081" y="871" width="2" height="9" fill="#e83b31"/><rect x="1085" y="871" width="2" height="6" fill="#089981"/><rect x="1089" y="869" width="2" height="6" fill="#089981"/><rect x="1091" y="863" width="2" height="7" fill="#089981"/><rect x="1095" y="865" width="2" height="6" fill="#e83b31"/><rect x="1099" y="863" width="2" height="10" fill="#089981"/><rect x="1101" y="859" width="2" height="8" fill="#e83b31"/><rect x="1105" y="855" width="2" height="14" fill="#089981"/><rect x="1109" y="845" width="2" height="13" fill="#089981"/><rect x="1111" y="847" width="2" height="7" fill="#e83b31"/><rect x="1115" y="839" width="2" height="15" fill="#089981"/><rect x="1117" y="837" width="2" height="15" fill="#089981"/><rect x="1121" y="821" width="2" height="31" fill="#089981"/><rect x="1125" y="813" width="2" height="26" fill="#e83b31"/><rect x="1127" y="803" width="2" height="31" fill="#e83b31"/><rect x="1131" y="827" width="2" height="24" fill="#e83b31"/><rect x="1135" y="827" width="2" height="16" fill="#089981"/><rect x="1137" y="819" width="2" height="12" fill="#089981"/><rect x="1141" y="807" width="2" height="20" fill="#e83b31"/><rect x="1145" y="821" width="2" height="13" fill="#e83b31"/><rect x="1147" y="825" width="2" height="12" fill="#089981"/><rect x="1151" y="823" width="2" height="9" fill="#089981"/><rect x="1153" y="819" width="2" height="13" fill="#e83b31"/><rect x="1157" y="829" width="2" height="10" fill="#089981"/><rect x="1161" y="781" width="2" height="50" fill="#089981"/><rect x="1163" y="753" width="2" height="50" fill="#089981"/><rect x="1167" y="759" width="2" height="18" fill="#089981"/><rect x="1171" y="759" width="2" height="23" fill="#e83b31"/><rect x="1173" y="765" width="2" height="12" fill="#089981"/><rect x="1177" y="753" width="2" height="20" fill="#e83b31"/><rect x="1181" y="709" width="2" height="62" fill="#089981"/><rect x="1183" y="711" width="2" height="17" fill="#089981"/><rect x="1187" y="673" width="2" height="44" fill="#089981"/><rect x="1191" y="689" width="2" height="24" fill="#e83b31"/><rect x="1193" y="703" width="2" height="51" fill="#e83b31"/><rect x="1197" y="727" width="2" height="20" fill="#089981"/><rect x="1199" y="721" width="2" height="31" fill="#e83b31"/><rect x="1203" y="733" width="2" height="12" fill="#e83b31"/><rect x="1207" y="735" width="2" height="14" fill="#e83b31"/><rect x="1209" y="741" width="2" height="19" fill="#089981"/><rect x="1213" y="739" width="2" height="8" fill="#e83b31"/><rect x="1217" y="737" width="2" height="15" fill="#089981"/><rect x="1219" y="729" width="2" height="14" fill="#089981"/><rect x="1223" y="729" width="2" height="6" fill="#089981"/><rect x="1227" y="725" width="2" height="8" fill="#089981"/><rect x="1229" y="715" width="2" height="14" fill="#089981"/><rect x="1233" y="723" width="2" height="12" fill="#e83b31"/><rect x="1237" y="731" width="2" height="12" fill="#e83b31"/><rect x="1239" y="739" width="2" height="8" fill="#e83b31"/><rect x="1243" y="731" width="2" height="16" fill="#089981"/><rect x="1245" y="731" width="2" height="8" fill="#e83b31"/><rect x="1249" y="735" width="2" height="4" fill="#089981"/><rect x="1253" y="721" width="2" height="14" fill="#089981"/><rect x="1255" y="721" width="2" height="8" fill="#e83b31"/><rect x="1259" y="721" width="2" height="6" fill="#e83b31"/><rect x="1263" y="707" width="2" height="22" fill="#089981"/><rect x="1265" y="705" width="2" height="12" fill="#e83b31"/><rect x="1269" y="709" width="2" height="8" fill="#089981"/><rect x="1273" y="711" width="2" height="8" fill="#e83b31"/><rect x="1275" y="713" width="2" height="12" fill="#089981"/><rect x="1279" y="701" width="2" height="18" fill="#089981"/><rect x="1283" y="695" width="2" height="22" fill="#089981"/><rect x="1285" y="695" width="2" height="14" fill="#e83b31"/><rect x="1289" y="675" width="2" height="33" fill="#089981"/><rect x="1291" y="655" width="2" height="42" fill="#089981"/><rect x="1295" y="665" width="2" height="26" fill="#e83b31"/><rect x="1299" y="677" width="2" height="24" fill="#e83b31"/><rect x="1301" y="687" width="2" height="8" fill="#e83b31"/><rect x="1305" y="691" width="2" height="8" fill="#089981"/><rect x="1309" y="693" width="2" height="16" fill="#e83b31"/><rect x="1311" y="693" width="2" height="12" fill="#089981"/><rect x="1315" y="685" width="2" height="22" fill="#e83b31"/><rect x="1319" y="701" width="2" height="8" fill="#e83b31"/><rect x="1321" y="703" width="2" height="6" fill="#089981"/><rect x="1325" y="693" width="2" height="10" fill="#089981"/><rect x="1327" y="669" width="2" height="28" fill="#089981"/><rect x="1331" y="673" width="2" height="16" fill="#e83b31"/><rect x="1335" y="685" width="2" height="43" fill="#e83b31"/><rect x="1337" y="705" width="2" height="10" fill="#089981"/><rect x="1341" y="695" width="2" height="15" fill="#089981"/><rect x="1345" y="700" width="2" height="7" fill="#089981"/><rect x="1347" y="701" width="2" height="9" fill="#089981"/><rect x="1351" y="700" width="2" height="7" fill="#e83b31"/><rect x="1355" y="695" width="2" height="9" fill="#089981"/><rect x="1357" y="700" width="2" height="15" fill="#e83b31"/><rect x="1361" y="705" width="2" height="10" fill="#e83b31"/><rect x="1365" y="705" width="2" height="8" fill="#089981"/><rect x="1367" y="700" width="2" height="7" fill="#089981"/><rect x="1371" y="701" width="2" height="3" fill="#e83b31"/><rect x="1373" y="701" width="2" height="9" fill="#e83b31"/><rect x="1377" y="705" width="2" height="5" fill="#089981"/><rect x="1381" y="709" width="2" height="12" fill="#e83b31"/><rect x="1383" y="689" width="2" height="32" fill="#089981"/><rect x="1387" y="689" width="2" height="12" fill="#e83b31"/><rect x="1391" y="677" width="2" height="27" fill="#089981"/><rect x="1393" y="631" width="2" height="54" fill="#089981"/><rect x="1397" y="655" width="2" height="20" fill="#089981"/><rect x="1401" y="615" width="2" height="50" fill="#089981"/><rect x="1403" y="609" width="2" height="28" fill="#e83b31"/><rect x="1407" y="601" width="2" height="34" fill="#089981"/><rect x="1411" y="597" width="2" height="30" fill="#e83b31"/><rect x="1413" y="619" width="2" height="32" fill="#e83b31"/><rect x="1417" y="623" width="2" height="24" fill="#089981"/><rect x="1419" y="625" width="2" height="34" fill="#e83b31"/><rect x="1423" y="637" width="2" height="10" fill="#089981"/><rect x="1427" y="617" width="2" height="22" fill="#089981"/><rect x="1429" y="619" width="2" height="16" fill="#089981"/><rect x="1433" y="623" width="2" height="32" fill="#e83b31"/><rect x="1437" y="611" width="2" height="24" fill="#089981"/><rect x="1439" y="599" width="2" height="20" fill="#089981"/><rect x="1443" y="567" width="2" height="50" fill="#089981"/><rect x="1447" y="565" width="2" height="48" fill="#e83b31"/><rect x="1449" y="577" width="2" height="40" fill="#089981"/><rect x="1453" y="553" width="2" height="36" fill="#089981"/><rect x="1457" y="517" width="2" height="43" fill="#089981"/><rect x="1459" y="533" width="2" height="22" fill="#089981"/><rect x="1463" y="255" width="2" height="283" fill="#089981"/><rect x="1465" y="357" width="2" height="98" fill="#e83b31"/><rect x="1469" y="341" width="2" height="84" fill="#089981"/><rect x="1473" y="303" width="2" height="66" fill="#089981"/><rect x="1475" y="209" width="2" height="100" fill="#089981"/><rect x="1479" y="257" width="2" height="60" fill="#e83b31"/><rect x="1483" y="273" width="2" height="44" fill="#089981"/><rect x="1485" y="269" width="2" height="66" fill="#e83b31"/><rect x="1489" y="309" width="2" height="28" fill="#089981"/><rect x="1493" y="317" width="2" height="30" fill="#089981"/><rect x="1495" y="301" width="2" height="24" fill="#089981"/><rect x="1499" y="277" width="2" height="38" fill="#089981"/><rect x="1501" y="279" width="2" height="18" fill="#089981"/><rect x="1505" y="245" width="2" height="40" fill="#089981"/><rect x="1509" y="247" width="2" height="34" fill="#089981"/><rect x="1511" y="269" width="2" height="37" fill="#e83b31"/><rect x="1515" y="279" width="2" height="36" fill="#e83b31"/><rect x="1519" y="273" width="2" height="117" fill="#e83b31"/><rect x="1521" y="287" width="2" height="77" fill="#089981"/><rect x="1525" y="313" width="2" height="26" fill="#e83b31"/><rect x="1529" y="331" width="2" height="44" fill="#089981"/><rect x="1531" y="331" width="2" height="18" fill="#e83b31"/><rect x="1535" y="323" width="2" height="30" fill="#e83b31"/><rect x="1539" y="299" width="2" height="66" fill="#089981"/><rect x="1541" y="299" width="2" height="33" fill="#089981"/><rect x="1545" y="301" width="2" height="44" fill="#e83b31"/><rect x="1547" y="317" width="2" height="24" fill="#089981"/><rect x="1551" y="285" width="2" height="33" fill="#089981"/><rect x="1555" y="301" width="2" height="21" fill="#e83b31"/><rect x="1557" y="313" width="2" height="13" fill="#e83b31"/><rect x="1561" y="303" width="2" height="23" fill="#089981"/><rect x="1565" y="303" width="2" height="25" fill="#e83b31"/><rect x="1567" y="305" width="2" height="13" fill="#089981"/><rect x="1571" y="303" width="2" height="46" fill="#e83b31"/><rect x="1575" y="317" width="2" height="21" fill="#089981"/><rect x="1577" y="291" width="2" height="40" fill="#089981"/><rect x="1581" y="299" width="2" height="18" fill="#089981"/><rect x="1585" y="281" width="2" height="23" fill="#e83b31"/><rect x="1587" y="283" width="2" height="20" fill="#089981"/><rect x="1591" y="261" width="2" height="36" fill="#089981"/><rect x="1593" y="249" width="2" height="41" fill="#089981"/><rect x="1597" y="233" width="2" height="32" fill="#089981"/><rect x="1601" y="223" width="2" height="58" fill="#e83b31"/><rect x="1603" y="259" width="2" height="28" fill="#089981"/><rect x="1607" y="257" width="2" height="26" fill="#089981"/><rect x="1611" y="251" width="2" height="21" fill="#089981"/><rect x="1613" y="247" width="2" height="22" fill="#e83b31"/><rect x="1617" y="255" width="2" height="20" fill="#e83b31"/><rect x="1621" y="263" width="2" height="13" fill="#089981"/><rect x="1623" y="267" width="2" height="31" fill="#e83b31"/><rect x="1627" y="259" width="2" height="24" fill="#089981"/><rect x="1629" y="251" width="2" height="13" fill="#089981"/><rect x="1633" y="251" width="2" height="12" fill="#089981"/><rect x="1637" y="249" width="2" height="9" fill="#089981"/><rect x="1639" y="249" width="2" height="14" fill="#e83b31"/><rect x="1643" y="259" width="2" height="16" fill="#e83b31"/><rect x="1647" y="265" width="2" height="20" fill="#089981"/><rect x="1649" y="253" width="2" height="19" fill="#089981"/><rect x="1653" y="255" width="2" height="21" fill="#e83b31"/><rect x="1657" y="269" width="2" height="16" fill="#e83b31"/><rect x="1659" y="281" width="2" height="30" fill="#e83b31"/><rect x="1663" y="291" width="2" height="32" fill="#e83b31"/><rect x="1667" y="291" width="2" height="21" fill="#089981"/><rect x="1669" y="287" width="2" height="17" fill="#e83b31"/><rect x="1673" y="291" width="2" height="42" fill="#089981"/><rect x="1675" y="297" width="2" height="36" fill="#e83b31"/><rect x="1679" y="313" width="2" height="30" fill="#e83b31"/><rect x="1683" y="323" width="2" height="20" fill="#089981"/><rect x="1685" y="313" width="2" height="11" fill="#089981"/><rect x="1689" y="309" width="2" height="20" fill="#089981"/><rect x="1693" y="303" width="2" height="15" fill="#089981"/><rect x="1695" y="301" width="2" height="11" fill="#e83b31"/><rect x="1699" y="299" width="2" height="12" fill="#089981"/><rect x="1703" y="295" width="2" height="11" fill="#e83b31"/><rect x="1705" y="305" width="2" height="18" fill="#e83b31"/><rect x="1709" y="315" width="2" height="23" fill="#e83b31"/><rect x="1713" y="307" width="2" height="29" fill="#089981"/><rect x="1715" y="307" width="2" height="8" fill="#089981"/><rect x="1719" y="305" width="2" height="15" fill="#e83b31"/><rect x="1721" y="309" width="2" height="14" fill="#e83b31"/><rect x="1725" y="299" width="2" height="16" fill="#089981"/><rect x="1729" y="299" width="2" height="27" fill="#e83b31"/><rect x="1731" y="309" width="2" height="15" fill="#089981"/><rect x="1735" y="305" width="2" height="7" fill="#089981"/><rect x="1739" y="305" width="2" height="10" fill="#e83b31"/><rect x="1741" y="311" width="2" height="12" fill="#e83b31"/><rect x="1745" y="303" width="2" height="26" fill="#089981"/><rect x="1749" y="303" width="2" height="9" fill="#089981"/><rect x="1751" y="307" width="2" height="25" fill="#e83b31"/><rect x="1755" y="309" width="2" height="26" fill="#089981"/><rect x="1759" y="317" width="2" height="15" fill="#e83b31"/><rect x="1761" y="329" width="2" height="46" fill="#e83b31"/><rect x="1765" y="349" width="2" height="23" fill="#e83b31"/><rect x="1767" y="347" width="2" height="10" fill="#089981"/><rect x="1771" y="333" width="2" height="16" fill="#089981"/><rect x="1775" y="333" width="2" height="8" fill="#089981"/><rect x="1777" y="331" width="2" height="8" fill="#e83b31"/><rect x="1781" y="325" width="2" height="14" fill="#089981"/><rect x="1785" y="327" width="2" height="6" fill="#e83b31"/><rect x="1787" y="327" width="2" height="4" fill="#089981"/><rect x="1791" y="307" width="2" height="22" fill="#089981"/><rect x="1795" y="311" width="2" height="8" fill="#e83b31"/><rect x="1797" y="313" width="2" height="6" fill="#089981"/><rect x="1801" y="305" width="2" height="10" fill="#089981"/><rect x="1803" y="309" width="2" height="8" fill="#e83b31"/><rect x="1807" y="313" width="2" height="4" fill="#e83b31"/><rect x="1811" y="311" width="2" height="6" fill="#089981"/><rect x="1813" y="311" width="2" height="4" fill="#e83b31"/><rect x="1817" y="311" width="2" height="4" fill="#089981"/><rect x="1821" y="277" width="2" height="34" fill="#089981"/><rect x="1823" y="301" width="2" height="28" fill="#e83b31"/><rect x="1827" y="309" width="2" height="18" fill="#089981"/><rect x="1831" y="307" width="2" height="10" fill="#e83b31"/><rect x="1833" y="299" width="2" height="14" fill="#089981"/><rect x="1837" y="303" width="2" height="8" fill="#e83b31"/><rect x="1841" y="307" width="2" height="6" fill="#e83b31"/><rect x="1843" y="301" width="2" height="12" fill="#089981"/><rect x="1847" y="305" width="2" height="6" fill="#e83b31"/><rect x="1849" y="307" width="2" height="6" fill="#089981"/><rect x="1853" y="303" width="2" height="6" fill="#089981"/><rect x="1857" y="303" width="2" height="12" fill="#e83b31"/><rect x="1859" y="311" width="2" height="4" fill="#e83b31"/><rect x="1863" y="311" width="2" height="6" fill="#e83b31"/><rect x="1867" y="313" width="2" height="12" fill="#e83b31"/><rect x="1869" y="317" width="2" height="6" fill="#089981"/><rect x="1873" y="317" width="2" height="6" fill="#e83b31"/><rect x="1877" y="315" width="2" height="12" fill="#089981"/><rect x="1879" y="317" width="2" height="4" fill="#089981"/><rect x="1883" y="309" width="2" height="10" fill="#089981"/><rect x="1887" y="309" width="2" height="6" fill="#e83b31"/><rect x="1889" y="297" width="2" height="16" fill="#089981"/><rect x="1893" y="295" width="2" height="10" fill="#e83b31"/><rect x="1895" y="301" width="2" height="6" fill="#e83b31"/><rect x="1899" y="293" width="2" height="14" fill="#089981"/><rect x="1903" y="283" width="2" height="16" fill="#089981"/><rect x="1905" y="275" width="2" height="16" fill="#e83b31"/><rect x="1909" y="275" width="2" height="16" fill="#089981"/><rect x="1913" y="271" width="2" height="14" fill="#e83b31"/><rect x="1915" y="281" width="2" height="6" fill="#e83b31"/><rect x="1919" y="255" width="2" height="32" fill="#089981"/><rect x="1923" y="255" width="2" height="16" fill="#089981"/><rect x="1925" y="259" width="2" height="16" fill="#e83b31"/><rect x="1929" y="265" width="2" height="10" fill="#089981"/><rect x="1933" y="263" width="2" height="22" fill="#e83b31"/><rect x="1935" y="257" width="2" height="26" fill="#089981"/><rect x="1939" y="259" width="2" height="22" fill="#e83b31"/><rect x="1941" y="271" width="2" height="10" fill="#e83b31"/><rect x="1945" y="275" width="2" height="10" fill="#e83b31"/><rect x="1949" y="283" width="2" height="22" fill="#e83b31"/><rect x="1951" y="291" width="2" height="8" fill="#e83b31"/><rect x="1955" y="289" width="2" height="12" fill="#089981"/><rect x="1959" y="289" width="2" height="12" fill="#e83b31"/><rect x="1961" y="293" width="2" height="12" fill="#089981"/><rect x="1965" y="291" width="2" height="20" fill="#e83b31"/><rect x="1969" y="283" width="2" height="24" fill="#089981"/><rect x="1971" y="261" width="2" height="26" fill="#089981"/><rect x="1975" y="269" width="2" height="14" fill="#089981"/><rect x="1977" y="263" width="2" height="16" fill="#089981"/><rect x="1981" y="247" width="2" height="28" fill="#e83b31"/><rect x="1985" y="253" width="2" height="26" fill="#089981"/><rect x="1987" y="249" width="2" height="24" fill="#e83b31"/><rect x="1991" y="255" width="2" height="12" fill="#089981"/><rect x="1995" y="263" width="2" height="26" fill="#e83b31"/><rect x="1997" y="279" width="2" height="36" fill="#e83b31"/><rect x="2001" y="289" width="2" height="8" fill="#089981"/><rect x="2005" y="281" width="2" height="14" fill="#089981"/><rect x="2007" y="281" width="2" height="12" fill="#e83b31"/><rect x="2011" y="271" width="2" height="18" fill="#089981"/><rect x="2015" y="273" width="2" height="8" fill="#e83b31"/><rect x="2017" y="275" width="2" height="6" fill="#089981"/><rect x="2021" y="269" width="2" height="12" fill="#089981"/><rect x="2023" y="273" width="2" height="14" fill="#e83b31"/><rect x="2027" y="281" width="2" height="16" fill="#e83b31"/><rect x="2031" y="287" width="2" height="16" fill="#e83b31"/><rect x="2033" y="295" width="2" height="10" fill="#089981"/><rect x="2037" y="291" width="2" height="14" fill="#089981"/><rect x="2041" y="289" width="2" height="20" fill="#e83b31"/><rect x="2043" y="295" width="2" height="18" fill="#e83b31"/><rect x="2047" y="283" width="2" height="36" fill="#089981"/><rect x="2051" y="281" width="2" height="9" fill="#089981"/><rect x="2053" y="281" width="2" height="7" fill="#089981"/><rect x="2057" y="273" width="2" height="14" fill="#089981"/><rect x="2061" y="275" width="2" height="21" fill="#e83b31"/><rect x="2063" y="291" width="2" height="18" fill="#e83b31"/><rect x="2067" y="289" width="2" height="20" fill="#089981"/><rect x="2069" y="289" width="2" height="18" fill="#e83b31"/><rect x="2073" y="277" width="2" height="24" fill="#089981"/><rect x="2077" y="283" width="2" height="5" fill="#e83b31"/><rect x="2079" y="277" width="2" height="13" fill="#089981"/><rect x="2083" y="269" width="2" height="14" fill="#089981"/><rect x="2087" y="259" width="2" height="16" fill="#089981"/><rect x="2089" y="257" width="2" height="26" fill="#e83b31"/><rect x="2093" y="265" width="2" height="16" fill="#089981"/><rect x="2097" y="263" width="2" height="12" fill="#089981"/><rect x="2099" y="263" width="2" height="13" fill="#e83b31"/><rect x="2103" y="271" width="2" height="8" fill="#e83b31"/><rect x="2105" y="277" width="2" height="6" fill="#e83b31"/><rect x="2109" y="279" width="2" height="6" fill="#e83b31"/><rect x="2113" y="279" width="2" height="8" fill="#089981"/><rect x="2115" y="281" width="2" height="9" fill="#e83b31"/><rect x="2119" y="283" width="2" height="9" fill="#089981"/><rect x="2123" y="277" width="2" height="8" fill="#089981"/><rect x="2125" y="279" width="2" height="6" fill="#e83b31"/><rect x="2129" y="277" width="2" height="6" fill="#089981"/><rect x="2133" y="279" width="2" height="9" fill="#e83b31"/><rect x="2135" y="281" width="2" height="9" fill="#089981"/><rect x="2139" y="243" width="2" height="47" fill="#089981"/><rect x="2143" y="217" width="2" height="67" fill="#e83b31"/><rect x="2145" y="263" width="2" height="47" fill="#e83b31"/><rect x="2149" y="293" width="2" height="14" fill="#089981"/><rect x="2151" y="273" width="2" height="21" fill="#089981"/><rect x="2155" y="273" width="2" height="15" fill="#089981"/><rect x="2159" y="257" width="2" height="26" fill="#089981"/><rect x="2161" y="257" width="2" height="19" fill="#e83b31"/><rect x="2165" y="193" width="2" height="80" fill="#089981"/><rect x="2169" y="185" width="2" height="42" fill="#e83b31"/><rect x="2171" y="189" width="2" height="28" fill="#e83b31"/><rect x="2175" y="195" width="2" height="20" fill="#089981"/><rect x="2179" y="179" width="2" height="23" fill="#089981"/><rect x="2181" y="181" width="2" height="20" fill="#089981"/><rect x="2185" y="151" width="2" height="37" fill="#089981"/><rect x="2189" y="165" width="2" height="21" fill="#e83b31"/><rect x="2191" y="183" width="2" height="14" fill="#e83b31"/><rect x="2195" y="193" width="2" height="28" fill="#e83b31"/><rect x="2197" y="211" width="2" height="18" fill="#089981"/><rect x="2201" y="203" width="2" height="12" fill="#089981"/><rect x="2205" y="207" width="2" height="18" fill="#089981"/><rect x="2207" y="199" width="2" height="14" fill="#089981"/><rect x="2211" y="193" width="2" height="12" fill="#e83b31"/><rect x="2215" y="197" width="2" height="9" fill="#089981"/><rect x="2217" y="195" width="2" height="11" fill="#e83b31"/><rect x="2221" y="203" width="2" height="58" fill="#e83b31"/><rect x="2225" y="231" width="2" height="30" fill="#e83b31"/><rect x="2227" y="238" width="2" height="35" fill="#e83b31"/><rect x="2231" y="257" width="2" height="38" fill="#089981"/><rect x="2235" y="253" width="2" height="20" fill="#089981"/><rect x="2237" y="245" width="2" height="11" fill="#089981"/><rect x="2241" y="233" width="2" height="15" fill="#089981"/><rect x="2243" y="225" width="2" height="23" fill="#e83b31"/><rect x="2247" y="237" width="2" height="10" fill="#089981"/><rect x="2251" y="238" width="2" height="15" fill="#e83b31"/><rect x="2253" y="240" width="2" height="19" fill="#089981"/><rect x="2257" y="239" width="2" height="46" fill="#e83b31"/><rect x="2261" y="267" width="2" height="21" fill="#089981"/><rect x="2263" y="259" width="2" height="14" fill="#089981"/><rect x="2267" y="259" width="2" height="5" fill="#089981"/><rect x="2271" y="259" width="2" height="33" fill="#e83b31"/><rect x="2273" y="273" width="2" height="17" fill="#089981"/><rect x="2277" y="271" width="2" height="12" fill="#e83b31"/><rect x="2279" y="277" width="2" height="11" fill="#089981"/><rect x="2283" y="265" width="2" height="35" fill="#e83b31"/><rect x="2287" y="281" width="2" height="21" fill="#e83b31"/><rect x="2289" y="295" width="2" height="14" fill="#089981"/><rect x="2293" y="295" width="2" height="10" fill="#e83b31"/><rect x="2297" y="281" width="2" height="26" fill="#089981"/><rect x="2299" y="269" width="2" height="22" fill="#089981"/><rect x="2303" y="251" width="2" height="26" fill="#089981"/><rect x="2307" y="247" width="2" height="14" fill="#089981"/><rect x="2309" y="249" width="2" height="22" fill="#e83b31"/><rect x="2313" y="263" width="2" height="28" fill="#e83b31"/><rect x="2317" y="267" width="2" height="22" fill="#089981"/><rect x="2319" y="269" width="2" height="14" fill="#089981"/><rect x="2323" y="263" width="2" height="14" fill="#089981"/><rect x="2325" y="259" width="2" height="10" fill="#089981"/><rect x="2329" y="265" width="2" height="6" fill="#089981"/><rect x="2333" y="255" width="2" height="12" fill="#089981"/><rect x="2335" y="257" width="2" height="6" fill="#e83b31"/><rect x="2339" y="251" width="2" height="14" fill="#089981"/><rect x="2343" y="251" width="2" height="12" fill="#e83b31"/><rect x="2345" y="257" width="2" height="6" fill="#089981"/><rect x="2349" y="257" width="2" height="6" fill="#e83b31"/><rect x="2353" y="255" width="2" height="14" fill="#089981"/><rect x="2355" y="233" width="2" height="24" fill="#089981"/><rect x="2359" y="245" width="2" height="10" fill="#e83b31"/><rect x="2363" y="243" width="2" height="16" fill="#089981"/><rect x="2365" y="245" width="2" height="10" fill="#e83b31"/><rect x="2369" y="251" width="2" height="6" fill="#e83b31"/><rect x="2371" y="253" width="2" height="8" fill="#e83b31"/><rect x="2375" y="255" width="2" height="6" fill="#089981"/><rect x="2379" y="255" width="2" height="8" fill="#e83b31"/><rect x="2381" y="251" width="2" height="10" fill="#089981"/><rect x="2385" y="255" width="2" height="10" fill="#e83b31"/><rect x="2389" y="253" width="2" height="8" fill="#e83b31"/><rect x="2391" y="253" width="2" height="6" fill="#089981"/><rect x="2395" y="251" width="2" height="6" fill="#089981"/><rect x="2399" y="251" width="2" height="6" fill="#e83b31"/><rect x="2401" y="255" width="2" height="4" fill="#089981"/><rect x="2405" y="243" width="2" height="12" fill="#089981"/><rect x="2407" y="219" width="2" height="32" fill="#089981"/><rect x="2411" y="213" width="2" height="20" fill="#e83b31"/><rect x="2415" y="227" width="2" height="12" fill="#e83b31"/><rect x="2417" y="227" width="2" height="12" fill="#089981"/><rect x="2421" y="227" width="2" height="12" fill="#e83b31"/><rect x="2425" y="209" width="2" height="24" fill="#089981"/><rect x="2427" y="207" width="2" height="16" fill="#e83b31"/><rect x="2431" y="215" width="2" height="8" fill="#089981"/><rect x="2435" y="219" width="2" height="12" fill="#e83b31"/><rect x="2437" y="219" width="2" height="10" fill="#089981"/><rect x="2441" y="217" width="2" height="16" fill="#e83b31"/><rect x="2445" y="223" width="2" height="8" fill="#089981"/><rect x="2447" y="221" width="2" height="10" fill="#089981"/><rect x="2451" y="221" width="2" height="8" fill="#e83b31"/><rect x="2453" y="219" width="2" height="14" fill="#e83b31"/><rect x="2457" y="223" width="2" height="32" fill="#e83b31"/><rect x="2461" y="240" width="2" height="13" fill="#089981"/><rect x="2463" y="241" width="2" height="10" fill="#e83b31"/><rect x="2467" y="237" width="2" height="8" fill="#089981"/><rect x="2471" y="211" width="2" height="28" fill="#089981"/><rect x="2473" y="225" width="2" height="10" fill="#e83b31"/><rect x="2477" y="225" width="2" height="12" fill="#e83b31"/><rect x="2481" y="227" width="2" height="8" fill="#089981"/><rect x="2483" y="233" width="2" height="48" fill="#e83b31"/><rect x="2487" y="233" width="2" height="32" fill="#089981"/><rect x="2491" y="201" width="2" height="36" fill="#089981"/><rect x="2493" y="227" width="2" height="14" fill="#089981"/><rect x="2497" y="223" width="2" height="24" fill="#e83b31"/><rect x="2499" y="239" width="2" height="10" fill="#089981"/><rect x="2503" y="235" width="2" height="14" fill="#089981"/><rect x="2507" y="231" width="2" height="16" fill="#e83b31"/><rect x="2509" y="241" width="2" height="16" fill="#e83b31"/><rect x="2513" y="245" width="2" height="10" fill="#089981"/><rect x="2517" y="241" width="2" height="8" fill="#089981"/><rect x="2519" y="237" width="2" height="12" fill="#089981"/><rect x="2523" y="223" width="2" height="16" fill="#089981"/><rect x="2527" y="211" width="2" height="16" fill="#089981"/><rect x="2529" y="213" width="2" height="16" fill="#089981"/><rect x="2533" y="213" width="2" height="12" fill="#e83b31"/><rect x="2537" y="215" width="2" height="28" fill="#e83b31"/><rect x="2539" y="217" width="2" height="14" fill="#089981"/><rect x="2543" y="215" width="2" height="14" fill="#e83b31"/><rect x="2545" y="225" width="2" height="16" fill="#e83b31"/><rect x="2549" y="231" width="2" height="12" fill="#089981"/><rect x="2553" y="233" width="2" height="16" fill="#e83b31"/></g>
<rect x="51" y="1158" width="2510" height="2" fill="#9ea5ae"/>
<rect x="2559" y="51" width="2" height="1109" fill="#9ea5ae"/>
<rect x="2561" y="68" width="7" height="2" fill="#9ea5ae"/><rect x="2561" y="148" width="7" height="2" fill="#9ea5ae"/><rect x="2561" y="232" width="7" height="2" fill="#9ea5ae"/><rect x="2561" y="320" width="7" height="2" fill="#9ea5ae"/><rect x="2561" y="408" width="7" height="2" fill="#9ea5ae"/><rect x="2561" y="500" width="7" height="2" fill="#9ea5ae"/><rect x="2561" y="594" width="7" height="2" fill="#9ea5ae"/><rect x="2561" y="692" width="7" height="2" fill="#9ea5ae"/><rect x="2561" y="794" width="7" height="2" fill="#9ea5ae"/><rect x="2561" y="898" width="7" height="2" fill="#9ea5ae"/><rect x="2561" y="1006" width="7" height="2" fill="#9ea5ae"/><rect x="2561" y="1120" width="7" height="2" fill="#9ea5ae"/>
<rect x="219" y="1160" width="2" height="7" fill="#9ea5ae"/><rect x="769" y="1160" width="2" height="7" fill="#9ea5ae"/><rect x="1321" y="1160" width="2" height="7" fill="#9ea5ae"/><rect x="1873" y="1160" width="2" height="7" fill="#9ea5ae"/><rect x="2109" y="1160" width="2" height="7" fill="#9ea5ae"/><rect x="2425" y="1160" width="2" height="7" fill="#9ea5ae"/>
<line x1="52" y1="239" x2="2560" y2="239" stroke="#e8281e" stroke-width="2" stroke-dasharray="12 4"/>
<g shape-rendering="auto">
<path d="M2561.5,239 L2575.5,225 L2575.5,218.5 L2685.5,218.5 L2685.5,259.5 L2575.5,259.5 L2575.5,253 Z" fill="#e83a30" stroke="#7f8c95" stroke-width="1"/>
<path d="M2556,1160.5 L2569.5,1174.5 L2580.5,1174.5 L2580.5,1215.5 L2507.5,1215.5 L2507.5,1174.5 L2542,1174.5 Z" fill="#e83a30" stroke="#7f8c95" stroke-width="1"/>
<text transform="translate(44.666,23.80) scale(0.97723,1)" font-size="14.4" fill="#1c2027" stroke="#1c2027" stroke-width="0.4">Charts powered by GoCharting.com -</text>
<text transform="translate(280.866,23.80) scale(0.97842,1)" font-size="14.4" fill="#1c2027" stroke="#1c2027" stroke-width="0.4">Created by</text>
<text transform="translate(358.335,23.80) scale(0.92983,1)" font-size="14.4" fill="#1c2027" stroke="#1c2027" stroke-width="0.4">on Mon Nov 06 2023</text>
<text transform="translate(76.049,79.00) scale(0.95525,1)" font-size="26.1" fill="#373d47" stroke="#373d47" stroke-width="0.4">BINANCE:BTCUSDT</text>
<text transform="translate(320.348,79.00) scale(1.09187,1)" font-size="26.1" fill="#373d47" stroke="#373d47" stroke-width="0.4">(1h)</text>
<text transform="translate(392.108,79.00) scale(1.03404,1)" font-size="26.1" fill="#373d47" stroke="#373d47" stroke-width="0.4">O:</text>
<text transform="translate(432.950,79.00) scale(1.04734,1)" font-size="26.1" fill="#e5352d" stroke="#e5352d" stroke-width="0.4">34950.60</text>
<text transform="translate(556.591,79.00) scale(1.07074,1)" font-size="26.1" fill="#373d47" stroke="#373d47" stroke-width="0.4">H:</text>
<text transform="translate(596.744,79.00) scale(1.05670,1)" font-size="26.1" fill="#e5352d" stroke="#e5352d" stroke-width="0.4">34957.58</text>
<text transform="translate(722.348,79.00) scale(1.00310,1)" font-size="26.1" fill="#373d47" stroke="#373d47" stroke-width="0.4">L:</text>
<text transform="translate(756.943,79.00) scale(1.05296,1)" font-size="26.1" fill="#e5352d" stroke="#e5352d" stroke-width="0.4">34923.33</text>
<text transform="translate(881.572,79.00) scale(0.96974,1)" font-size="26.1" fill="#373d47" stroke="#373d47" stroke-width="0.4">C:</text>
<text transform="translate(919.963,79.00) scale(1.03668,1)" font-size="26.1" fill="#e5352d" stroke="#e5352d" stroke-width="0.4">34942.81</text>
<text transform="translate(1044.382,79.00) scale(1.12670,1)" font-size="26.1" fill="#373d47" stroke="#373d47" stroke-width="0.4">OI:</text>
<text transform="translate(1094.731,79.00) scale(1.06145,1)" font-size="26.1" fill="#5b6470" stroke="#5b6470" stroke-width="0.4">n/a</text>
<text transform="translate(1154.640,79.00) scale(1.08772,1)" font-size="26.1" fill="#e5352d" stroke="#e5352d" stroke-width="0.4">-7.79</text>
<text transform="translate(1240.521,79.00) scale(1.11959,1)" font-size="26.1" fill="#e5352d" stroke="#e5352d" stroke-width="0.4">(-0.02%)</text>
<text transform="translate(2574.071,82.65) scale(0.92910,1)" font-size="25.0" fill="#131722" stroke="#131722" stroke-width="0.4">37000.00</text>
<text transform="translate(2574.071,162.65) scale(0.92910,1)" font-size="25.0" fill="#131722" stroke="#131722" stroke-width="0.4">36000.00</text>
<text transform="translate(2574.071,334.65) scale(0.92910,1)" font-size="25.0" fill="#131722" stroke="#131722" stroke-width="0.4">34000.00</text>
<text transform="translate(2574.071,422.65) scale(0.92910,1)" font-size="25.0" fill="#131722" stroke="#131722" stroke-width="0.4">33000.00</text>
<text transform="translate(2574.071,514.65) scale(0.92910,1)" font-size="25.0" fill="#131722" stroke="#131722" stroke-width="0.4">32000.00</text>
<text transform="translate(2574.071,608.65) scale(0.92910,1)" font-size="25.0" fill="#131722" stroke="#131722" stroke-width="0.4">31000.00</text>
<text transform="translate(2574.071,706.65) scale(0.92910,1)" font-size="25.0" fill="#131722" stroke="#131722" stroke-width="0.4">30000.00</text>
<text transform="translate(2573.836,808.65) scale(0.93137,1)" font-size="25.0" fill="#131722" stroke="#131722" stroke-width="0.4">29000.00</text>
<text transform="translate(2573.836,912.65) scale(0.93137,1)" font-size="25.0" fill="#131722" stroke="#131722" stroke-width="0.4">28000.00</text>
<text transform="translate(2573.836,1020.65) scale(0.93137,1)" font-size="25.0" fill="#131722" stroke="#131722" stroke-width="0.4">27000.00</text>
<text transform="translate(2573.836,1134.65) scale(0.93137,1)" font-size="25.0" fill="#131722" stroke="#131722" stroke-width="0.4">26000.00</text>
<text transform="translate(191.232,1196.65) scale(0.96698,1)" font-size="24.5" fill="#131722" stroke="#131722" stroke-width="0.4">8 Oct</text>
<text transform="translate(734.726,1196.65) scale(0.95666,1)" font-size="24.5" fill="#131722" stroke="#131722" stroke-width="0.4">15 Oct</text>
<text transform="translate(1286.581,1196.65) scale(0.96706,1)" font-size="24.5" fill="#131722" stroke="#131722" stroke-width="0.4">22 Oct</text>
<text transform="translate(1838.581,1196.65) scale(0.96706,1)" font-size="24.5" fill="#131722" stroke="#131722" stroke-width="0.4">29 Oct</text>
<text transform="translate(2089.732,1196.65) scale(0.92598,1)" font-size="24.5" fill="#131722" stroke="#131722" stroke-width="0.4">Nov</text>
<text transform="translate(2396.461,1196.65) scale(0.92786,1)" font-size="24.5" fill="#131722" stroke="#131722" stroke-width="0.4">5 Nov</text>
<text transform="translate(2582.507,247.75) scale(0.89226,1)" font-size="25.0" fill="#ffffff" stroke="#ffffff" stroke-width="0.4">34942.81</text>
<text transform="translate(2514.334,1204.75) scale(0.92010,1)" font-size="24.7" fill="#ffffff" stroke="#ffffff" stroke-width="0.4">46:41</text>
</g>
</svg>
</body></html>
